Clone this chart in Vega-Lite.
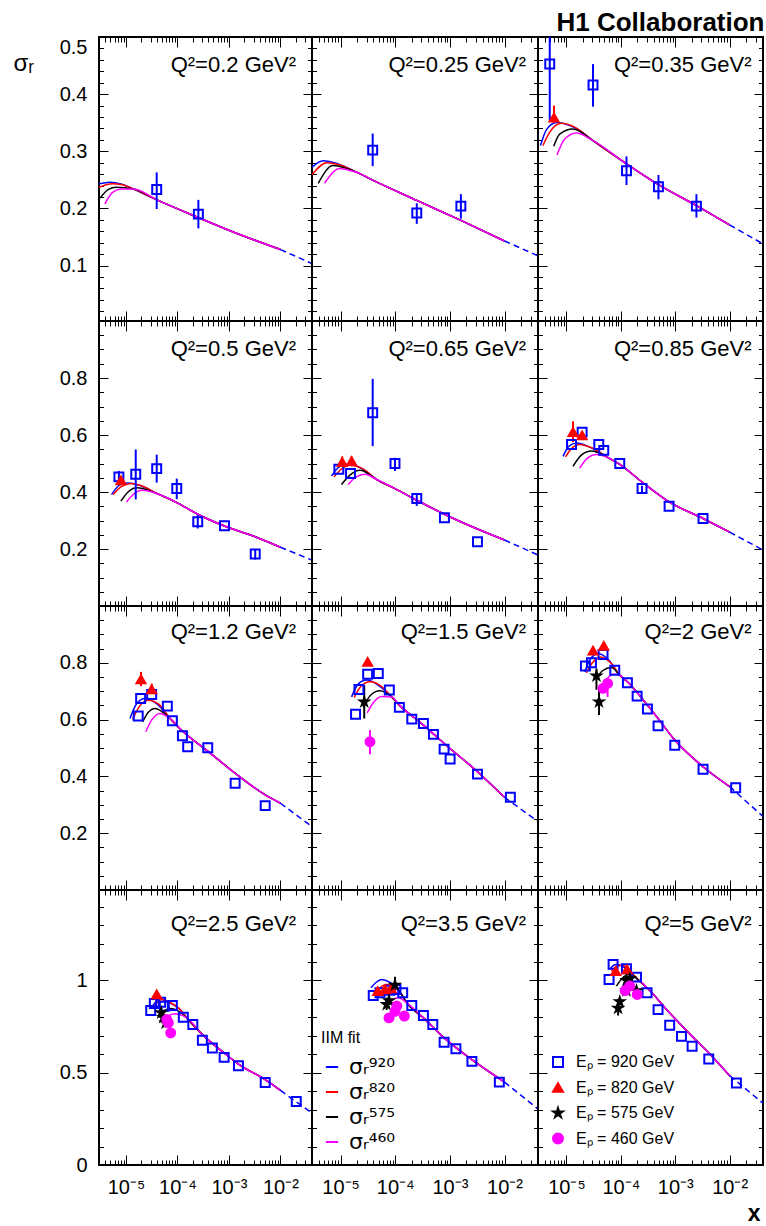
{
"$schema":"https://vega.github.io/schema/vega-lite/v6.json",
"autosize":{"type":"pad"},
"padding":{"left":12,"top":9,"right":2,"bottom":2},
"background":"white",
"title":{"text":"H1 Collaboration","anchor":"end","fontSize":26,"fontWeight":"bold","font":"Liberation Sans","baseline":"alphabetic","offset":-21,"color":"black"},
"config":{"view":{"stroke":"black","strokeWidth":2},"font":"Liberation Sans","axis":{"labelColor":"black","tickColor":"black","tickWidth":1,"labelFont":"Liberation Sans"},"legend":{"labelFont":"Liberation Sans","titleFont":"Liberation Sans","labelColor":"black","titleColor":"black"}},
"data":{"values":[
{"p":1,"k":"c","f":"920","x":3e-6,"y":0.243},{"p":1,"k":"c","f":"920","x":4.9e-6,"y":0.246},{"p":1,"k":"c","f":"920","x":8e-6,"y":0.243},{"p":1,"k":"c","f":"920","x":1.4e-5,"y":0.234},{"p":1,"k":"c","f":"920","x":4e-5,"y":0.215},{"p":1,"k":"c","f":"920","x":2.55e-4,"y":0.184},{"p":1,"k":"c","f":"920","x":1.05e-3,"y":0.161},{"p":1,"k":"c","f":"920","x":0.01,"y":0.128},
{"p":1,"k":"c","f":"820","x":3e-6,"y":0.237},{"p":1,"k":"c","f":"820","x":5.5e-6,"y":0.243},{"p":1,"k":"c","f":"820","x":8e-6,"y":0.242},{"p":1,"k":"c","f":"820","x":1.4e-5,"y":0.234},{"p":1,"k":"c","f":"820","x":4e-5,"y":0.215},{"p":1,"k":"c","f":"820","x":2.55e-4,"y":0.184},{"p":1,"k":"c","f":"820","x":1.05e-3,"y":0.161},{"p":1,"k":"c","f":"820","x":0.01,"y":0.128},
{"p":1,"k":"c","f":"575","x":3.15e-6,"y":0.218},{"p":1,"k":"c","f":"575","x":4.5e-6,"y":0.233},{"p":1,"k":"c","f":"575","x":6.5e-6,"y":0.237},{"p":1,"k":"c","f":"575","x":1.4e-5,"y":0.234},{"p":1,"k":"c","f":"575","x":4e-5,"y":0.215},{"p":1,"k":"c","f":"575","x":2.55e-4,"y":0.184},{"p":1,"k":"c","f":"575","x":1.05e-3,"y":0.161},{"p":1,"k":"c","f":"575","x":0.01,"y":0.128},
{"p":1,"k":"c","f":"460","x":3.9e-6,"y":0.208},{"p":1,"k":"c","f":"460","x":5.5e-6,"y":0.228},{"p":1,"k":"c","f":"460","x":8e-6,"y":0.234},{"p":1,"k":"c","f":"460","x":1.4e-5,"y":0.234},{"p":1,"k":"c","f":"460","x":4e-5,"y":0.215},{"p":1,"k":"c","f":"460","x":2.55e-4,"y":0.184},{"p":1,"k":"c","f":"460","x":1.05e-3,"y":0.161},{"p":1,"k":"c","f":"460","x":0.01,"y":0.128},
{"p":1,"k":"d","x":0.01,"y":0.128},{"p":1,"k":"d","x":0.041,"y":0.1035},
{"p":1,"k":"m","e":"920 GeV","x":3.96e-5,"y":0.233,"lo":0.199,"hi":0.263},{"p":1,"k":"m","e":"920 GeV","x":2.55e-4,"y":0.19,"lo":0.165,"hi":0.215},

{"p":2,"k":"c","f":"920","x":3e-6,"y":0.272},{"p":2,"k":"c","f":"920","x":4.8e-6,"y":0.2836},{"p":2,"k":"c","f":"920","x":9e-6,"y":0.278},{"p":2,"k":"c","f":"920","x":2e-5,"y":0.263},{"p":2,"k":"c","f":"920","x":3.96e-5,"y":0.249},{"p":2,"k":"c","f":"920","x":2.48e-4,"y":0.214},{"p":2,"k":"c","f":"920","x":1.59e-3,"y":0.179},{"p":2,"k":"c","f":"920","x":0.01,"y":0.143},
{"p":2,"k":"c","f":"820","x":3e-6,"y":0.259},{"p":2,"k":"c","f":"820","x":5.6e-6,"y":0.28},{"p":2,"k":"c","f":"820","x":9e-6,"y":0.277},{"p":2,"k":"c","f":"820","x":2e-5,"y":0.263},{"p":2,"k":"c","f":"820","x":3.96e-5,"y":0.249},{"p":2,"k":"c","f":"820","x":2.48e-4,"y":0.214},{"p":2,"k":"c","f":"820","x":1.59e-3,"y":0.179},{"p":2,"k":"c","f":"820","x":0.01,"y":0.143},
{"p":2,"k":"c","f":"575","x":3.9e-6,"y":0.244},{"p":2,"k":"c","f":"575","x":7.3e-6,"y":0.275},{"p":2,"k":"c","f":"575","x":1.2e-5,"y":0.271},{"p":2,"k":"c","f":"575","x":2e-5,"y":0.263},{"p":2,"k":"c","f":"575","x":3.96e-5,"y":0.249},{"p":2,"k":"c","f":"575","x":2.48e-4,"y":0.214},{"p":2,"k":"c","f":"575","x":1.59e-3,"y":0.179},{"p":2,"k":"c","f":"575","x":0.01,"y":0.143},
{"p":2,"k":"c","f":"460","x":5.1e-6,"y":0.244},{"p":2,"k":"c","f":"460","x":9.7e-6,"y":0.27},{"p":2,"k":"c","f":"460","x":1.4e-5,"y":0.267},{"p":2,"k":"c","f":"460","x":2e-5,"y":0.263},{"p":2,"k":"c","f":"460","x":3.96e-5,"y":0.249},{"p":2,"k":"c","f":"460","x":2.48e-4,"y":0.214},{"p":2,"k":"c","f":"460","x":1.59e-3,"y":0.179},{"p":2,"k":"c","f":"460","x":0.01,"y":0.143},
{"p":2,"k":"d","x":0.01,"y":0.143},{"p":2,"k":"d","x":0.041,"y":0.117},
{"p":2,"k":"m","e":"920 GeV","x":3.87e-5,"y":0.302,"lo":0.274,"hi":0.331},{"p":2,"k":"m","e":"920 GeV","x":2.48e-4,"y":0.192,"lo":0.173,"hi":0.209},{"p":2,"k":"m","e":"920 GeV","x":1.59e-3,"y":0.204,"lo":0.182,"hi":0.225},

{"p":3,"k":"c","f":"920","x":3.33e-6,"y":0.31},{"p":3,"k":"c","f":"920","x":4.3e-6,"y":0.338},{"p":3,"k":"c","f":"920","x":6.55e-6,"y":0.3505},{"p":3,"k":"c","f":"920","x":1.5e-5,"y":0.34},{"p":3,"k":"c","f":"920","x":3.08e-5,"y":0.3185},{"p":3,"k":"c","f":"920","x":1.27e-4,"y":0.278},{"p":3,"k":"c","f":"920","x":4.91e-4,"y":0.2416},{"p":3,"k":"c","f":"920","x":2.45e-3,"y":0.205},{"p":3,"k":"c","f":"920","x":0.01,"y":0.171},
{"p":3,"k":"c","f":"820","x":3.7e-6,"y":0.31},{"p":3,"k":"c","f":"820","x":4.9e-6,"y":0.333},{"p":3,"k":"c","f":"820","x":8.1e-6,"y":0.349},{"p":3,"k":"c","f":"820","x":1.5e-5,"y":0.341},{"p":3,"k":"c","f":"820","x":3.08e-5,"y":0.3185},{"p":3,"k":"c","f":"820","x":1.27e-4,"y":0.278},{"p":3,"k":"c","f":"820","x":4.91e-4,"y":0.2416},{"p":3,"k":"c","f":"820","x":2.45e-3,"y":0.205},{"p":3,"k":"c","f":"820","x":0.01,"y":0.171},
{"p":3,"k":"c","f":"575","x":5.85e-6,"y":0.309},{"p":3,"k":"c","f":"575","x":7.5e-6,"y":0.33},{"p":3,"k":"c","f":"575","x":1.32e-5,"y":0.339},{"p":3,"k":"c","f":"575","x":3.08e-5,"y":0.3185},{"p":3,"k":"c","f":"575","x":1.27e-4,"y":0.278},{"p":3,"k":"c","f":"575","x":4.91e-4,"y":0.2416},{"p":3,"k":"c","f":"575","x":2.45e-3,"y":0.205},{"p":3,"k":"c","f":"575","x":0.01,"y":0.171},
{"p":3,"k":"c","f":"460","x":6.7e-6,"y":0.2935},{"p":3,"k":"c","f":"460","x":9.3e-6,"y":0.3215},{"p":3,"k":"c","f":"460","x":1.53e-5,"y":0.332},{"p":3,"k":"c","f":"460","x":3.08e-5,"y":0.3185},{"p":3,"k":"c","f":"460","x":1.27e-4,"y":0.278},{"p":3,"k":"c","f":"460","x":4.91e-4,"y":0.2416},{"p":3,"k":"c","f":"460","x":2.45e-3,"y":0.205},{"p":3,"k":"c","f":"460","x":0.01,"y":0.171},
{"p":3,"k":"d","x":0.01,"y":0.171},{"p":3,"k":"d","x":0.041,"y":0.138},
{"p":3,"k":"m","e":"920 GeV","x":4.93e-6,"y":0.4526,"lo":0.355,"hi":0.56},{"p":3,"k":"m","e":"920 GeV","x":3.08e-5,"y":0.416,"lo":0.378,"hi":0.4526},{"p":3,"k":"m","e":"920 GeV","x":1.27e-4,"y":0.266,"lo":0.241,"hi":0.291},{"p":3,"k":"m","e":"920 GeV","x":4.91e-4,"y":0.238,"lo":0.216,"hi":0.2585},{"p":3,"k":"m","e":"920 GeV","x":2.45e-3,"y":0.204,"lo":0.184,"hi":0.225},{"p":3,"k":"m","e":"820 GeV","x":5.9e-6,"y":0.359,"lo":0.35,"hi":0.38},

{"p":4,"k":"c","f":"920","x":5.27e-6,"y":0.391},{"p":4,"k":"c","f":"920","x":7.5e-6,"y":0.424},{"p":4,"k":"c","f":"920","x":1.11e-5,"y":0.432},{"p":4,"k":"c","f":"920","x":2e-5,"y":0.421},{"p":4,"k":"c","f":"920","x":3.96e-5,"y":0.395},{"p":4,"k":"c","f":"920","x":9.7e-5,"y":0.363},{"p":4,"k":"c","f":"920","x":2.48e-4,"y":0.322},{"p":4,"k":"c","f":"920","x":8.2e-4,"y":0.2805},{"p":4,"k":"c","f":"920","x":3.24e-3,"y":0.243},{"p":4,"k":"c","f":"920","x":0.01,"y":0.206},
{"p":4,"k":"c","f":"820","x":5.66e-6,"y":0.391},{"p":4,"k":"c","f":"820","x":8e-6,"y":0.418},{"p":4,"k":"c","f":"820","x":1.29e-5,"y":0.43},{"p":4,"k":"c","f":"820","x":2e-5,"y":0.422},{"p":4,"k":"c","f":"820","x":3.96e-5,"y":0.395},{"p":4,"k":"c","f":"820","x":9.7e-5,"y":0.363},{"p":4,"k":"c","f":"820","x":2.48e-4,"y":0.322},{"p":4,"k":"c","f":"820","x":8.2e-4,"y":0.2805},{"p":4,"k":"c","f":"820","x":3.24e-3,"y":0.243},{"p":4,"k":"c","f":"820","x":0.01,"y":0.206},
{"p":4,"k":"c","f":"575","x":8e-6,"y":0.368},{"p":4,"k":"c","f":"575","x":1.1e-5,"y":0.4},{"p":4,"k":"c","f":"575","x":1.62e-5,"y":0.4145},{"p":4,"k":"c","f":"575","x":3.96e-5,"y":0.395},{"p":4,"k":"c","f":"575","x":9.7e-5,"y":0.363},{"p":4,"k":"c","f":"575","x":2.48e-4,"y":0.322},{"p":4,"k":"c","f":"575","x":8.2e-4,"y":0.2805},{"p":4,"k":"c","f":"575","x":3.24e-3,"y":0.243},{"p":4,"k":"c","f":"575","x":0.01,"y":0.206},
{"p":4,"k":"c","f":"460","x":1.03e-5,"y":0.365},{"p":4,"k":"c","f":"460","x":1.4e-5,"y":0.392},{"p":4,"k":"c","f":"460","x":2.02e-5,"y":0.406},{"p":4,"k":"c","f":"460","x":3.96e-5,"y":0.395},{"p":4,"k":"c","f":"460","x":9.7e-5,"y":0.363},{"p":4,"k":"c","f":"460","x":2.48e-4,"y":0.322},{"p":4,"k":"c","f":"460","x":8.2e-4,"y":0.2805},{"p":4,"k":"c","f":"460","x":3.24e-3,"y":0.243},{"p":4,"k":"c","f":"460","x":0.01,"y":0.206},
{"p":4,"k":"d","x":0.01,"y":0.206},{"p":4,"k":"d","x":0.041,"y":0.161},
{"p":4,"k":"m","e":"920 GeV","x":7.3e-6,"y":0.453,"lo":0.433,"hi":0.474},{"p":4,"k":"m","e":"920 GeV","x":1.55e-5,"y":0.462,"lo":0.374,"hi":0.549},{"p":4,"k":"m","e":"920 GeV","x":3.96e-5,"y":0.482,"lo":0.433,"hi":0.531},{"p":4,"k":"m","e":"920 GeV","x":9.7e-5,"y":0.412,"lo":0.375,"hi":0.447},{"p":4,"k":"m","e":"920 GeV","x":2.48e-4,"y":0.2955,"lo":0.272,"hi":0.319},{"p":4,"k":"m","e":"920 GeV","x":8.2e-4,"y":0.2815},{"p":4,"k":"m","e":"920 GeV","x":3.24e-3,"y":0.1825,"lo":0.163,"hi":0.199},{"p":4,"k":"m","e":"820 GeV","x":8e-6,"y":0.441},

{"p":5,"k":"c","f":"920","x":6.84e-6,"y":0.456},{"p":5,"k":"c","f":"920","x":9e-6,"y":0.485},{"p":5,"k":"c","f":"920","x":1.29e-5,"y":0.497},{"p":5,"k":"c","f":"920","x":2.5e-5,"y":0.481},{"p":5,"k":"c","f":"920","x":4.58e-5,"y":0.4437},{"p":5,"k":"c","f":"920","x":9.9e-5,"y":0.412},{"p":5,"k":"c","f":"920","x":2.48e-4,"y":0.371},{"p":5,"k":"c","f":"920","x":7.96e-4,"y":0.322},{"p":5,"k":"c","f":"920","x":3.2e-3,"y":0.27},{"p":5,"k":"c","f":"920","x":0.01,"y":0.2315},
{"p":5,"k":"c","f":"820","x":7.6e-6,"y":0.453},{"p":5,"k":"c","f":"820","x":1e-5,"y":0.478},{"p":5,"k":"c","f":"820","x":1.48e-5,"y":0.4937},{"p":5,"k":"c","f":"820","x":2.5e-5,"y":0.483},{"p":5,"k":"c","f":"820","x":4.58e-5,"y":0.4437},{"p":5,"k":"c","f":"820","x":9.9e-5,"y":0.412},{"p":5,"k":"c","f":"820","x":2.48e-4,"y":0.371},{"p":5,"k":"c","f":"820","x":7.96e-4,"y":0.322},{"p":5,"k":"c","f":"820","x":3.2e-3,"y":0.27},{"p":5,"k":"c","f":"820","x":0.01,"y":0.2315},
{"p":5,"k":"c","f":"575","x":1.04e-5,"y":0.426},{"p":5,"k":"c","f":"575","x":1.5e-5,"y":0.46},{"p":5,"k":"c","f":"575","x":2.26e-5,"y":0.476},{"p":5,"k":"c","f":"575","x":4.58e-5,"y":0.4437},{"p":5,"k":"c","f":"575","x":9.9e-5,"y":0.412},{"p":5,"k":"c","f":"575","x":2.48e-4,"y":0.371},{"p":5,"k":"c","f":"575","x":7.96e-4,"y":0.322},{"p":5,"k":"c","f":"575","x":3.2e-3,"y":0.27},{"p":5,"k":"c","f":"575","x":0.01,"y":0.2315},
{"p":5,"k":"c","f":"460","x":1.38e-5,"y":0.426},{"p":5,"k":"c","f":"460","x":1.9e-5,"y":0.452},{"p":5,"k":"c","f":"460","x":2.79e-5,"y":0.462},{"p":5,"k":"c","f":"460","x":4.58e-5,"y":0.4437},{"p":5,"k":"c","f":"460","x":9.9e-5,"y":0.412},{"p":5,"k":"c","f":"460","x":2.48e-4,"y":0.371},{"p":5,"k":"c","f":"460","x":7.96e-4,"y":0.322},{"p":5,"k":"c","f":"460","x":3.2e-3,"y":0.27},{"p":5,"k":"c","f":"460","x":0.01,"y":0.2315},
{"p":5,"k":"d","x":0.01,"y":0.2315},{"p":5,"k":"d","x":0.041,"y":0.179},
{"p":5,"k":"m","e":"920 GeV","x":9.3e-6,"y":0.48},{"p":5,"k":"m","e":"920 GeV","x":1.52e-5,"y":0.4647},{"p":5,"k":"m","e":"920 GeV","x":3.87e-5,"y":0.678,"lo":0.561,"hi":0.797},{"p":5,"k":"m","e":"920 GeV","x":9.9e-5,"y":0.4997,"lo":0.474,"hi":0.52},{"p":5,"k":"m","e":"920 GeV","x":2.48e-4,"y":0.377,"lo":0.3515,"hi":0.395},{"p":5,"k":"m","e":"920 GeV","x":7.96e-4,"y":0.3096},{"p":5,"k":"m","e":"920 GeV","x":3.2e-3,"y":0.2256},{"p":5,"k":"m","e":"820 GeV","x":1.07e-5,"y":0.505,"lo":0.49,"hi":0.525},{"p":5,"k":"m","e":"820 GeV","x":1.59e-5,"y":0.508,"lo":0.49,"hi":0.525},

{"p":6,"k":"c","f":"920","x":8.66e-6,"y":0.525},{"p":6,"k":"c","f":"920","x":1.1e-5,"y":0.56},{"p":6,"k":"c","f":"920","x":1.53e-5,"y":0.572},{"p":6,"k":"c","f":"920","x":3e-5,"y":0.553},{"p":6,"k":"c","f":"920","x":5.82e-5,"y":0.5206},{"p":6,"k":"c","f":"920","x":9.55e-5,"y":0.497},{"p":6,"k":"c","f":"920","x":2.45e-4,"y":0.435},{"p":6,"k":"c","f":"920","x":7.7e-4,"y":0.3654},{"p":6,"k":"c","f":"920","x":3.24e-3,"y":0.307},{"p":6,"k":"c","f":"920","x":0.01,"y":0.259},
{"p":6,"k":"c","f":"820","x":9.6e-6,"y":0.523},{"p":6,"k":"c","f":"820","x":1.25e-5,"y":0.553},{"p":6,"k":"c","f":"820","x":1.75e-5,"y":0.567},{"p":6,"k":"c","f":"820","x":3e-5,"y":0.554},{"p":6,"k":"c","f":"820","x":5.82e-5,"y":0.5206},{"p":6,"k":"c","f":"820","x":9.55e-5,"y":0.497},{"p":6,"k":"c","f":"820","x":2.45e-4,"y":0.435},{"p":6,"k":"c","f":"820","x":7.7e-4,"y":0.3654},{"p":6,"k":"c","f":"820","x":3.24e-3,"y":0.307},{"p":6,"k":"c","f":"820","x":0.01,"y":0.259},
{"p":6,"k":"c","f":"575","x":1.32e-5,"y":0.49},{"p":6,"k":"c","f":"575","x":1.9e-5,"y":0.53},{"p":6,"k":"c","f":"575","x":2.88e-5,"y":0.5437},{"p":6,"k":"c","f":"575","x":5.82e-5,"y":0.5206},{"p":6,"k":"c","f":"575","x":9.55e-5,"y":0.497},{"p":6,"k":"c","f":"575","x":2.45e-4,"y":0.435},{"p":6,"k":"c","f":"575","x":7.7e-4,"y":0.3654},{"p":6,"k":"c","f":"575","x":3.24e-3,"y":0.307},{"p":6,"k":"c","f":"575","x":0.01,"y":0.259},
{"p":6,"k":"c","f":"460","x":1.75e-5,"y":0.484},{"p":6,"k":"c","f":"460","x":2.4e-5,"y":0.518},{"p":6,"k":"c","f":"460","x":3.56e-5,"y":0.532},{"p":6,"k":"c","f":"460","x":5.82e-5,"y":0.5206},{"p":6,"k":"c","f":"460","x":9.55e-5,"y":0.497},{"p":6,"k":"c","f":"460","x":2.45e-4,"y":0.435},{"p":6,"k":"c","f":"460","x":7.7e-4,"y":0.3654},{"p":6,"k":"c","f":"460","x":3.24e-3,"y":0.307},{"p":6,"k":"c","f":"460","x":0.01,"y":0.259},
{"p":6,"k":"d","x":0.01,"y":0.259},{"p":6,"k":"d","x":0.041,"y":0.1965},
{"p":6,"k":"m","e":"920 GeV","x":1.24e-5,"y":0.567},{"p":6,"k":"m","e":"920 GeV","x":1.94e-5,"y":0.61},{"p":6,"k":"m","e":"920 GeV","x":3.93e-5,"y":0.567},{"p":6,"k":"m","e":"920 GeV","x":4.85e-5,"y":0.546},{"p":6,"k":"m","e":"920 GeV","x":9.55e-5,"y":0.4997},{"p":6,"k":"m","e":"920 GeV","x":2.45e-4,"y":0.412,"lo":0.4,"hi":0.422},{"p":6,"k":"m","e":"920 GeV","x":7.7e-4,"y":0.35},{"p":6,"k":"m","e":"920 GeV","x":3.24e-3,"y":0.307},{"p":6,"k":"m","e":"820 GeV","x":1.32e-5,"y":0.61,"lo":0.575,"hi":0.648},{"p":6,"k":"m","e":"820 GeV","x":1.94e-5,"y":0.5986},

{"p":7,"k":"c","f":"920","x":1.2e-5,"y":0.604},{"p":7,"k":"c","f":"920","x":1.6e-5,"y":0.655},{"p":7,"k":"c","f":"920","x":2.34e-5,"y":0.6745},{"p":7,"k":"c","f":"920","x":4e-5,"y":0.655},{"p":7,"k":"c","f":"920","x":7.18e-5,"y":0.604},{"p":7,"k":"c","f":"920","x":1.25e-4,"y":0.5596},{"p":7,"k":"c","f":"920","x":3.88e-4,"y":0.489},{"p":7,"k":"c","f":"920","x":1.32e-3,"y":0.411},{"p":7,"k":"c","f":"920","x":5.06e-3,"y":0.3346},{"p":7,"k":"c","f":"920","x":0.01,"y":0.3054},
{"p":7,"k":"c","f":"820","x":1.35e-5,"y":0.6007},{"p":7,"k":"c","f":"820","x":1.8e-5,"y":0.645},{"p":7,"k":"c","f":"820","x":2.72e-5,"y":0.6685},{"p":7,"k":"c","f":"820","x":4.5e-5,"y":0.652},{"p":7,"k":"c","f":"820","x":7.18e-5,"y":0.604},{"p":7,"k":"c","f":"820","x":1.25e-4,"y":0.5596},{"p":7,"k":"c","f":"820","x":3.88e-4,"y":0.489},{"p":7,"k":"c","f":"820","x":1.32e-3,"y":0.411},{"p":7,"k":"c","f":"820","x":5.06e-3,"y":0.3346},{"p":7,"k":"c","f":"820","x":0.01,"y":0.3054},
{"p":7,"k":"c","f":"575","x":2.11e-5,"y":0.592},{"p":7,"k":"c","f":"575","x":2.7e-5,"y":0.625},{"p":7,"k":"c","f":"575","x":3.67e-5,"y":0.639},{"p":7,"k":"c","f":"575","x":7.18e-5,"y":0.604},{"p":7,"k":"c","f":"575","x":1.25e-4,"y":0.5596},{"p":7,"k":"c","f":"575","x":3.88e-4,"y":0.489},{"p":7,"k":"c","f":"575","x":1.32e-3,"y":0.411},{"p":7,"k":"c","f":"575","x":5.06e-3,"y":0.3346},{"p":7,"k":"c","f":"575","x":0.01,"y":0.3054},
{"p":7,"k":"c","f":"460","x":2.42e-5,"y":0.557},{"p":7,"k":"c","f":"460","x":3.2e-5,"y":0.6},{"p":7,"k":"c","f":"460","x":4.58e-5,"y":0.6218},{"p":7,"k":"c","f":"460","x":7.18e-5,"y":0.604},{"p":7,"k":"c","f":"460","x":1.25e-4,"y":0.5596},{"p":7,"k":"c","f":"460","x":3.88e-4,"y":0.489},{"p":7,"k":"c","f":"460","x":1.32e-3,"y":0.411},{"p":7,"k":"c","f":"460","x":5.06e-3,"y":0.3346},{"p":7,"k":"c","f":"460","x":0.01,"y":0.3054},
{"p":7,"k":"d","x":0.01,"y":0.3054},{"p":7,"k":"d","x":0.041,"y":0.223},
{"p":7,"k":"m","e":"920 GeV","x":1.73e-5,"y":0.613},{"p":7,"k":"m","e":"920 GeV","x":1.93e-5,"y":0.6745},{"p":7,"k":"m","e":"920 GeV","x":3.16e-5,"y":0.6886},{"p":7,"k":"m","e":"920 GeV","x":6.37e-5,"y":0.6475},{"p":7,"k":"m","e":"920 GeV","x":7.97e-5,"y":0.596},{"p":7,"k":"m","e":"920 GeV","x":1.25e-4,"y":0.543},{"p":7,"k":"m","e":"920 GeV","x":1.58e-4,"y":0.5045},{"p":7,"k":"m","e":"920 GeV","x":3.88e-4,"y":0.501},{"p":7,"k":"m","e":"920 GeV","x":1.32e-3,"y":0.376},{"p":7,"k":"m","e":"920 GeV","x":5.06e-3,"y":0.297},{"p":7,"k":"m","e":"820 GeV","x":1.96e-5,"y":0.742,"lo":0.718,"hi":0.768},{"p":7,"k":"m","e":"820 GeV","x":3.16e-5,"y":0.706,"lo":0.69,"hi":0.727},

{"p":8,"k":"c","f":"920","x":1.59e-5,"y":0.68},{"p":8,"k":"c","f":"920","x":2.1e-5,"y":0.725},{"p":8,"k":"c","f":"920","x":3e-5,"y":0.739},{"p":8,"k":"c","f":"920","x":5e-5,"y":0.72},{"p":8,"k":"c","f":"920","x":8.6e-5,"y":0.68},{"p":8,"k":"c","f":"920","x":1.19e-4,"y":0.651},{"p":8,"k":"c","f":"920","x":3.28e-4,"y":0.5807},{"p":8,"k":"c","f":"920","x":7.85e-4,"y":0.516},{"p":8,"k":"c","f":"920","x":3.2e-3,"y":0.4165},{"p":8,"k":"c","f":"920","x":0.01,"y":0.3265},
{"p":8,"k":"c","f":"820","x":1.78e-5,"y":0.678},{"p":8,"k":"c","f":"820","x":2.3e-5,"y":0.715},{"p":8,"k":"c","f":"820","x":3.45e-5,"y":0.733},{"p":8,"k":"c","f":"820","x":5.5e-5,"y":0.718},{"p":8,"k":"c","f":"820","x":8.6e-5,"y":0.68},{"p":8,"k":"c","f":"820","x":1.19e-4,"y":0.651},{"p":8,"k":"c","f":"820","x":3.28e-4,"y":0.5807},{"p":8,"k":"c","f":"820","x":7.85e-4,"y":0.516},{"p":8,"k":"c","f":"820","x":3.2e-3,"y":0.4165},{"p":8,"k":"c","f":"820","x":0.01,"y":0.3265},
{"p":8,"k":"c","f":"575","x":2.6e-5,"y":0.643},{"p":8,"k":"c","f":"575","x":3.5e-5,"y":0.685},{"p":8,"k":"c","f":"575","x":5.26e-5,"y":0.7015},{"p":8,"k":"c","f":"575","x":8.6e-5,"y":0.68},{"p":8,"k":"c","f":"575","x":1.19e-4,"y":0.651},{"p":8,"k":"c","f":"575","x":3.28e-4,"y":0.5807},{"p":8,"k":"c","f":"575","x":7.85e-4,"y":0.516},{"p":8,"k":"c","f":"575","x":3.2e-3,"y":0.4165},{"p":8,"k":"c","f":"575","x":0.01,"y":0.3265},
{"p":8,"k":"c","f":"460","x":3.08e-5,"y":0.624},{"p":8,"k":"c","f":"460","x":4e-5,"y":0.66},{"p":8,"k":"c","f":"460","x":5.65e-5,"y":0.681},{"p":8,"k":"c","f":"460","x":8.6e-5,"y":0.68},{"p":8,"k":"c","f":"460","x":1.19e-4,"y":0.651},{"p":8,"k":"c","f":"460","x":3.28e-4,"y":0.5807},{"p":8,"k":"c","f":"460","x":7.85e-4,"y":0.516},{"p":8,"k":"c","f":"460","x":3.2e-3,"y":0.4165},{"p":8,"k":"c","f":"460","x":0.01,"y":0.3265},
{"p":8,"k":"d","x":0.01,"y":0.3265},{"p":8,"k":"d","x":0.041,"y":0.241},
{"p":8,"k":"m","e":"920 GeV","x":1.88e-5,"y":0.619},{"p":8,"k":"m","e":"920 GeV","x":2.17e-5,"y":0.706},{"p":8,"k":"m","e":"920 GeV","x":3.13e-5,"y":0.76},{"p":8,"k":"m","e":"920 GeV","x":4.9e-5,"y":0.7625},{"p":8,"k":"m","e":"920 GeV","x":7.8e-5,"y":0.704},{"p":8,"k":"m","e":"920 GeV","x":1.19e-4,"y":0.643},{"p":8,"k":"m","e":"920 GeV","x":2.01e-4,"y":0.6017},{"p":8,"k":"m","e":"920 GeV","x":3.28e-4,"y":0.5866},{"p":8,"k":"m","e":"920 GeV","x":5e-4,"y":0.548},{"p":8,"k":"m","e":"920 GeV","x":7.85e-4,"y":0.496},{"p":8,"k":"m","e":"920 GeV","x":1.01e-3,"y":0.461},{"p":8,"k":"m","e":"920 GeV","x":3.2e-3,"y":0.408},{"p":8,"k":"m","e":"920 GeV","x":1.28e-2,"y":0.3265},{"p":8,"k":"m","e":"820 GeV","x":3.13e-5,"y":0.803},{"p":8,"k":"m","e":"575 GeV","x":2.71e-5,"y":0.6626,"lo":0.604,"hi":0.721},{"p":8,"k":"m","e":"460 GeV","x":3.45e-5,"y":0.522,"lo":0.478,"hi":0.563},

{"p":9,"k":"c","f":"920","x":2.17e-5,"y":0.768},{"p":9,"k":"c","f":"920","x":2.8e-5,"y":0.815},{"p":9,"k":"c","f":"920","x":3.81e-5,"y":0.8327},{"p":9,"k":"c","f":"920","x":6e-5,"y":0.81},{"p":9,"k":"c","f":"920","x":9.55e-5,"y":0.7564},{"p":9,"k":"c","f":"920","x":1.32e-4,"y":0.733},{"p":9,"k":"c","f":"920","x":3.08e-4,"y":0.651},{"p":9,"k":"c","f":"920","x":4.83e-4,"y":0.604},{"p":9,"k":"c","f":"920","x":9.8e-4,"y":0.528},{"p":9,"k":"c","f":"920","x":3.24e-3,"y":0.434},{"p":9,"k":"c","f":"920","x":0.01,"y":0.364},
{"p":9,"k":"c","f":"820","x":2.33e-5,"y":0.7645},{"p":9,"k":"c","f":"820","x":3e-5,"y":0.8},{"p":9,"k":"c","f":"820","x":4.22e-5,"y":0.8207},{"p":9,"k":"c","f":"820","x":6.5e-5,"y":0.8},{"p":9,"k":"c","f":"820","x":9.55e-5,"y":0.7564},{"p":9,"k":"c","f":"820","x":1.32e-4,"y":0.733},{"p":9,"k":"c","f":"820","x":3.08e-4,"y":0.651},{"p":9,"k":"c","f":"820","x":4.83e-4,"y":0.604},{"p":9,"k":"c","f":"820","x":9.8e-4,"y":0.528},{"p":9,"k":"c","f":"820","x":3.24e-3,"y":0.434},{"p":9,"k":"c","f":"820","x":0.01,"y":0.364},
{"p":9,"k":"c","f":"575","x":3.65e-5,"y":0.748},{"p":9,"k":"c","f":"575","x":4.6e-5,"y":0.772},{"p":9,"k":"c","f":"575","x":6.71e-5,"y":0.7835},{"p":9,"k":"c","f":"575","x":9.55e-5,"y":0.7564},{"p":9,"k":"c","f":"575","x":1.32e-4,"y":0.733},{"p":9,"k":"c","f":"575","x":3.08e-4,"y":0.651},{"p":9,"k":"c","f":"575","x":4.83e-4,"y":0.604},{"p":9,"k":"c","f":"575","x":9.8e-4,"y":0.528},{"p":9,"k":"c","f":"575","x":3.24e-3,"y":0.434},{"p":9,"k":"c","f":"575","x":0.01,"y":0.364},
{"p":9,"k":"c","f":"460","x":4.51e-5,"y":0.713},{"p":9,"k":"c","f":"460","x":5.6e-5,"y":0.745},{"p":9,"k":"c","f":"460","x":7.73e-5,"y":0.76},{"p":9,"k":"c","f":"460","x":9.55e-5,"y":0.7564},{"p":9,"k":"c","f":"460","x":1.32e-4,"y":0.733},{"p":9,"k":"c","f":"460","x":3.08e-4,"y":0.651},{"p":9,"k":"c","f":"460","x":4.83e-4,"y":0.604},{"p":9,"k":"c","f":"460","x":9.8e-4,"y":0.528},{"p":9,"k":"c","f":"460","x":3.24e-3,"y":0.434},{"p":9,"k":"c","f":"460","x":0.01,"y":0.364},
{"p":9,"k":"d","x":0.01,"y":0.364},{"p":9,"k":"d","x":0.041,"y":0.259},
{"p":9,"k":"m","e":"920 GeV","x":2.23e-5,"y":0.789},{"p":9,"k":"m","e":"920 GeV","x":2.88e-5,"y":0.8},{"p":9,"k":"m","e":"920 GeV","x":4.71e-5,"y":0.829},{"p":9,"k":"m","e":"920 GeV","x":7.73e-5,"y":0.774},{"p":9,"k":"m","e":"920 GeV","x":1.32e-4,"y":0.7295},{"p":9,"k":"m","e":"920 GeV","x":1.99e-4,"y":0.6826},{"p":9,"k":"m","e":"920 GeV","x":3.08e-4,"y":0.637},{"p":9,"k":"m","e":"920 GeV","x":4.83e-4,"y":0.578},{"p":9,"k":"m","e":"920 GeV","x":9.8e-4,"y":0.51},{"p":9,"k":"m","e":"920 GeV","x":3.24e-3,"y":0.425},{"p":9,"k":"m","e":"920 GeV","x":1.29e-2,"y":0.36},{"p":9,"k":"m","e":"820 GeV","x":3.08e-5,"y":0.8425},{"p":9,"k":"m","e":"820 GeV","x":4.85e-5,"y":0.86},{"p":9,"k":"m","e":"575 GeV","x":3.56e-5,"y":0.754,"lo":0.705,"hi":0.78},{"p":9,"k":"m","e":"575 GeV","x":3.97e-5,"y":0.6626,"lo":0.616,"hi":0.704},{"p":9,"k":"m","e":"460 GeV","x":4.7e-5,"y":0.71},{"p":9,"k":"m","e":"460 GeV","x":5.7e-5,"y":0.7275,"lo":0.68,"hi":0.741},

{"p":10,"k":"c","f":"920","x":3.16e-5,"y":0.855},{"p":10,"k":"c","f":"920","x":3.8e-5,"y":0.885},{"p":10,"k":"c","f":"920","x":4.58e-5,"y":0.9},{"p":10,"k":"c","f":"920","x":7e-5,"y":0.88},{"p":10,"k":"c","f":"920","x":1.1e-4,"y":0.845},{"p":10,"k":"c","f":"920","x":1.52e-4,"y":0.797},{"p":10,"k":"c","f":"920","x":3.05e-4,"y":0.7065},{"p":10,"k":"c","f":"920","x":8.07e-4,"y":0.607},{"p":10,"k":"c","f":"920","x":1.53e-3,"y":0.547},{"p":10,"k":"c","f":"920","x":5.06e-3,"y":0.462},{"p":10,"k":"c","f":"920","x":0.01,"y":0.404},
{"p":10,"k":"c","f":"820","x":3.3e-5,"y":0.846},{"p":10,"k":"c","f":"820","x":4e-5,"y":0.88},{"p":10,"k":"c","f":"820","x":4.95e-5,"y":0.897},{"p":10,"k":"c","f":"820","x":7e-5,"y":0.882},{"p":10,"k":"c","f":"820","x":1.1e-4,"y":0.846},{"p":10,"k":"c","f":"820","x":1.52e-4,"y":0.797},{"p":10,"k":"c","f":"820","x":3.05e-4,"y":0.7065},{"p":10,"k":"c","f":"820","x":8.07e-4,"y":0.607},{"p":10,"k":"c","f":"820","x":1.53e-3,"y":0.547},{"p":10,"k":"c","f":"820","x":5.06e-3,"y":0.462},{"p":10,"k":"c","f":"820","x":0.01,"y":0.404},
{"p":10,"k":"c","f":"575","x":4.58e-5,"y":0.806},{"p":10,"k":"c","f":"575","x":5.5e-5,"y":0.835},{"p":10,"k":"c","f":"575","x":7.18e-5,"y":0.848},{"p":10,"k":"c","f":"575","x":1.1e-4,"y":0.83},{"p":10,"k":"c","f":"575","x":1.52e-4,"y":0.797},{"p":10,"k":"c","f":"575","x":3.05e-4,"y":0.7065},{"p":10,"k":"c","f":"575","x":8.07e-4,"y":0.607},{"p":10,"k":"c","f":"575","x":1.53e-3,"y":0.547},{"p":10,"k":"c","f":"575","x":5.06e-3,"y":0.462},{"p":10,"k":"c","f":"575","x":0.01,"y":0.404},
{"p":10,"k":"c","f":"460","x":5.32e-5,"y":0.773},{"p":10,"k":"c","f":"460","x":6.5e-5,"y":0.805},{"p":10,"k":"c","f":"460","x":8.98e-5,"y":0.819},{"p":10,"k":"c","f":"460","x":1.1e-4,"y":0.815},{"p":10,"k":"c","f":"460","x":1.52e-4,"y":0.797},{"p":10,"k":"c","f":"460","x":3.05e-4,"y":0.7065},{"p":10,"k":"c","f":"460","x":8.07e-4,"y":0.607},{"p":10,"k":"c","f":"460","x":1.53e-3,"y":0.547},{"p":10,"k":"c","f":"460","x":5.06e-3,"y":0.462},{"p":10,"k":"c","f":"460","x":0.01,"y":0.404},
{"p":10,"k":"d","x":0.01,"y":0.404},{"p":10,"k":"d","x":0.041,"y":0.281},
{"p":10,"k":"m","e":"920 GeV","x":3.03e-5,"y":0.837},{"p":10,"k":"m","e":"920 GeV","x":3.56e-5,"y":0.875},{"p":10,"k":"m","e":"920 GeV","x":4.73e-5,"y":0.882},{"p":10,"k":"m","e":"920 GeV","x":5.56e-5,"y":0.86},{"p":10,"k":"m","e":"920 GeV","x":7.97e-5,"y":0.864},{"p":10,"k":"m","e":"920 GeV","x":1.3e-4,"y":0.8007},{"p":10,"k":"m","e":"920 GeV","x":1.99e-4,"y":0.761},{"p":10,"k":"m","e":"920 GeV","x":3.05e-4,"y":0.6757},{"p":10,"k":"m","e":"920 GeV","x":4.77e-4,"y":0.634},{"p":10,"k":"m","e":"920 GeV","x":8.07e-4,"y":0.583},{"p":10,"k":"m","e":"920 GeV","x":1.53e-3,"y":0.538},{"p":10,"k":"m","e":"920 GeV","x":5.06e-3,"y":0.447},{"p":10,"k":"m","e":"920 GeV","x":2.03e-2,"y":0.344},{"p":10,"k":"m","e":"820 GeV","x":3.96e-5,"y":0.924},{"p":10,"k":"m","e":"575 GeV","x":4.85e-5,"y":0.825,"lo":0.8,"hi":0.85},{"p":10,"k":"m","e":"575 GeV","x":5.3e-5,"y":0.8},{"p":10,"k":"m","e":"575 GeV","x":5.9e-5,"y":0.77,"lo":0.745,"hi":0.795},{"p":10,"k":"m","e":"460 GeV","x":6.2e-5,"y":0.788},{"p":10,"k":"m","e":"460 GeV","x":6.66e-5,"y":0.77},{"p":10,"k":"m","e":"460 GeV","x":7.4e-5,"y":0.716,"lo":0.7,"hi":0.735},

{"p":11,"k":"c","f":"920","x":3.6e-5,"y":0.96},{"p":11,"k":"c","f":"920","x":4.5e-5,"y":0.99},{"p":11,"k":"c","f":"920","x":5.65e-5,"y":1.005},{"p":11,"k":"c","f":"920","x":8e-5,"y":0.99},{"p":11,"k":"c","f":"920","x":1.14e-4,"y":0.95},{"p":11,"k":"c","f":"920","x":1.63e-4,"y":0.879},{"p":11,"k":"c","f":"920","x":3.28e-4,"y":0.797},{"p":11,"k":"c","f":"920","x":7.85e-4,"y":0.6886},{"p":11,"k":"c","f":"920","x":2.53e-3,"y":0.5707},{"p":11,"k":"c","f":"920","x":0.01,"y":0.449},
{"p":11,"k":"c","f":"820","x":4.26e-5,"y":0.924},{"p":11,"k":"c","f":"820","x":5.2e-5,"y":0.958},{"p":11,"k":"c","f":"820","x":6.98e-5,"y":0.978},{"p":11,"k":"c","f":"820","x":1e-4,"y":0.96},{"p":11,"k":"c","f":"820","x":1.14e-4,"y":0.945},{"p":11,"k":"c","f":"820","x":1.63e-4,"y":0.879},{"p":11,"k":"c","f":"820","x":3.28e-4,"y":0.797},{"p":11,"k":"c","f":"820","x":7.85e-4,"y":0.6886},{"p":11,"k":"c","f":"820","x":2.53e-3,"y":0.5707},{"p":11,"k":"c","f":"820","x":0.01,"y":0.449},
{"p":11,"k":"c","f":"575","x":5.65e-5,"y":0.915},{"p":11,"k":"c","f":"575","x":7e-5,"y":0.95},{"p":11,"k":"c","f":"575","x":9.2e-5,"y":0.969},{"p":11,"k":"c","f":"575","x":1.14e-4,"y":0.95},{"p":11,"k":"c","f":"575","x":1.63e-4,"y":0.879},{"p":11,"k":"c","f":"575","x":3.28e-4,"y":0.797},{"p":11,"k":"c","f":"575","x":7.85e-4,"y":0.6886},{"p":11,"k":"c","f":"575","x":2.53e-3,"y":0.5707},{"p":11,"k":"c","f":"575","x":0.01,"y":0.449},
{"p":11,"k":"c","f":"460","x":6.78e-5,"y":0.852},{"p":11,"k":"c","f":"460","x":8.5e-5,"y":0.89},{"p":11,"k":"c","f":"460","x":1.14e-4,"y":0.906},{"p":11,"k":"c","f":"460","x":1.63e-4,"y":0.879},{"p":11,"k":"c","f":"460","x":3.28e-4,"y":0.797},{"p":11,"k":"c","f":"460","x":7.85e-4,"y":0.6886},{"p":11,"k":"c","f":"460","x":2.53e-3,"y":0.5707},{"p":11,"k":"c","f":"460","x":0.01,"y":0.449},
{"p":11,"k":"d","x":0.01,"y":0.449},{"p":11,"k":"d","x":0.041,"y":0.303},
{"p":11,"k":"m","e":"920 GeV","x":3.96e-5,"y":0.9185},{"p":11,"k":"m","e":"920 GeV","x":5.26e-5,"y":0.933},{"p":11,"k":"m","e":"920 GeV","x":8.03e-5,"y":0.947},{"p":11,"k":"m","e":"920 GeV","x":1.03e-4,"y":0.951},{"p":11,"k":"m","e":"920 GeV","x":1.37e-4,"y":0.933},{"p":11,"k":"m","e":"920 GeV","x":2.01e-4,"y":0.864},{"p":11,"k":"m","e":"920 GeV","x":3.28e-4,"y":0.81},{"p":11,"k":"m","e":"920 GeV","x":4.87e-4,"y":0.761},{"p":11,"k":"m","e":"920 GeV","x":7.85e-4,"y":0.665},{"p":11,"k":"m","e":"920 GeV","x":1.29e-3,"y":0.63},{"p":11,"k":"m","e":"920 GeV","x":2.53e-3,"y":0.5616},{"p":11,"k":"m","e":"920 GeV","x":8.04e-3,"y":0.449},{"p":11,"k":"m","e":"820 GeV","x":4.78e-5,"y":0.942},{"p":11,"k":"m","e":"820 GeV","x":6.5e-5,"y":0.951},{"p":11,"k":"m","e":"820 GeV","x":8.4e-5,"y":0.957},{"p":11,"k":"m","e":"575 GeV","x":6.98e-5,"y":0.87,"lo":0.84,"hi":0.9},{"p":11,"k":"m","e":"575 GeV","x":7.7e-5,"y":0.89},{"p":11,"k":"m","e":"575 GeV","x":9.9e-5,"y":0.975,"lo":0.94,"hi":1.02},{"p":11,"k":"m","e":"460 GeV","x":7.7e-5,"y":0.797},{"p":11,"k":"m","e":"460 GeV","x":9.9e-5,"y":0.833},{"p":11,"k":"m","e":"460 GeV","x":1.07e-4,"y":0.861},{"p":11,"k":"m","e":"460 GeV","x":1.47e-4,"y":0.807},

{"p":12,"k":"c","f":"920","x":6.25e-5,"y":1.06},{"p":12,"k":"c","f":"920","x":7.2e-5,"y":1.08},{"p":12,"k":"c","f":"920","x":8.3e-5,"y":1.087},{"p":12,"k":"c","f":"920","x":1.3e-4,"y":1.06},{"p":12,"k":"c","f":"920","x":1.6e-4,"y":1.035},{"p":12,"k":"c","f":"920","x":2.22e-4,"y":0.996},{"p":12,"k":"c","f":"920","x":3.03e-4,"y":0.96},{"p":12,"k":"c","f":"920","x":7.9e-4,"y":0.824},{"p":12,"k":"c","f":"920","x":2.04e-3,"y":0.697},{"p":12,"k":"c","f":"920","x":4.13e-3,"y":0.607},{"p":12,"k":"c","f":"920","x":0.01,"y":0.484},
{"p":12,"k":"c","f":"820","x":6.7e-5,"y":1.051},{"p":12,"k":"c","f":"820","x":8e-5,"y":1.072},{"p":12,"k":"c","f":"820","x":1.03e-4,"y":1.082},{"p":12,"k":"c","f":"820","x":1.4e-4,"y":1.06},{"p":12,"k":"c","f":"820","x":1.6e-4,"y":1.04},{"p":12,"k":"c","f":"820","x":2.22e-4,"y":0.996},{"p":12,"k":"c","f":"820","x":3.03e-4,"y":0.96},{"p":12,"k":"c","f":"820","x":7.9e-4,"y":0.824},{"p":12,"k":"c","f":"820","x":2.04e-3,"y":0.697},{"p":12,"k":"c","f":"820","x":4.13e-3,"y":0.607},{"p":12,"k":"c","f":"820","x":0.01,"y":0.484},
{"p":12,"k":"c","f":"575","x":8.3e-5,"y":0.969},{"p":12,"k":"c","f":"575","x":1.05e-4,"y":1.01},{"p":12,"k":"c","f":"575","x":1.46e-4,"y":1.033},{"p":12,"k":"c","f":"575","x":2.22e-4,"y":0.996},{"p":12,"k":"c","f":"575","x":3.03e-4,"y":0.96},{"p":12,"k":"c","f":"575","x":7.9e-4,"y":0.824},{"p":12,"k":"c","f":"575","x":2.04e-3,"y":0.697},{"p":12,"k":"c","f":"575","x":4.13e-3,"y":0.607},{"p":12,"k":"c","f":"575","x":0.01,"y":0.484},
{"p":12,"k":"c","f":"460","x":1.03e-4,"y":0.96},{"p":12,"k":"c","f":"460","x":1.25e-4,"y":0.98},{"p":12,"k":"c","f":"460","x":1.57e-4,"y":0.991},{"p":12,"k":"c","f":"460","x":2.22e-4,"y":0.996},{"p":12,"k":"c","f":"460","x":3.03e-4,"y":0.96},{"p":12,"k":"c","f":"460","x":7.9e-4,"y":0.824},{"p":12,"k":"c","f":"460","x":2.04e-3,"y":0.697},{"p":12,"k":"c","f":"460","x":4.13e-3,"y":0.607},{"p":12,"k":"c","f":"460","x":0.01,"y":0.484},
{"p":12,"k":"d","x":0.01,"y":0.484},{"p":12,"k":"d","x":0.041,"y":0.335},
{"p":12,"k":"m","e":"920 GeV","x":6.07e-5,"y":1.005},{"p":12,"k":"m","e":"920 GeV","x":7.2e-5,"y":1.087},{"p":12,"k":"m","e":"920 GeV","x":1.27e-4,"y":1.063},{"p":12,"k":"m","e":"920 GeV","x":1.94e-4,"y":1.018},{"p":12,"k":"m","e":"920 GeV","x":3.03e-4,"y":0.933},{"p":12,"k":"m","e":"920 GeV","x":4.83e-4,"y":0.842},{"p":12,"k":"m","e":"920 GeV","x":7.9e-4,"y":0.757},{"p":12,"k":"m","e":"920 GeV","x":1.3e-3,"y":0.697},{"p":12,"k":"m","e":"920 GeV","x":2.04e-3,"y":0.643},{"p":12,"k":"m","e":"920 GeV","x":4.13e-3,"y":0.574},{"p":12,"k":"m","e":"920 GeV","x":1.33e-2,"y":0.444},{"p":12,"k":"m","e":"820 GeV","x":8.05e-5,"y":1.051},{"p":12,"k":"m","e":"820 GeV","x":1.3e-4,"y":1.06},{"p":12,"k":"m","e":"575 GeV","x":8.9e-5,"y":0.85,"lo":0.81,"hi":0.9},{"p":12,"k":"m","e":"575 GeV","x":9.55e-5,"y":0.885},{"p":12,"k":"m","e":"575 GeV","x":1.27e-4,"y":1.0},{"p":12,"k":"m","e":"575 GeV","x":1.46e-4,"y":1.01},{"p":12,"k":"m","e":"575 GeV","x":1.27e-4,"y":0.945},{"p":12,"k":"m","e":"575 GeV","x":1.94e-4,"y":0.945},{"p":12,"k":"m","e":"460 GeV","x":1.2e-4,"y":0.945},{"p":12,"k":"m","e":"460 GeV","x":1.46e-4,"y":0.97},{"p":12,"k":"m","e":"460 GeV","x":2e-4,"y":0.924}
]},
"bounds":"flush",
"spacing":0,
"columns":3,
"concat":[
{"width":213,"height":284,"title":{"text":"Q²=0.2 GeV²","anchor":"end","frame":"group","baseline":"alphabetic","offset":-57,"dx":-16,"fontSize":22,"fontWeight":"normal"},"transform":[{"filter":"datum.p==1"}],"resolve":{"axis":{"x":"independent","y":"independent"}},"layer":[
{"transform":[{"filter":"datum.k=='c'"}],"mark":{"type":"line","strokeWidth":1.5,"interpolate":"monotone","clip":true},"encoding":{"x":{"field":"x","type":"quantitative","scale":{"type":"log","domain":[3e-6,0.041],"nice":false},"axis":{"orient":"bottom","values":[3e-6,4e-6,5e-6,6e-6,7e-6,8e-6,9e-6,1e-5,2e-5,3e-5,4e-5,5e-5,6e-5,7e-5,8e-5,9e-5,0.0001,0.0002,0.0003,0.0004,0.0005,0.0006,0.0007,0.0008,0.0009,0.001,0.002,0.003,0.004,0.005,0.006,0.007,0.008,0.009,0.01,0.02,0.03,0.04],"labels":false,"tickSize":{"condition":{"test":"abs(log(datum.value)/LN10-round(log(datum.value)/LN10))<0.01","value":-10},"value":-5},"domain":false,"grid":false,"title":null}},"y":{"field":"y","type":"quantitative","scale":{"domain":[0.003,0.5],"nice":false,"zero":false},"axis":{"orient":"left","values":[0.02,0.04,0.06,0.08,0.1,0.12,0.14,0.16,0.18,0.2,0.22,0.24,0.26,0.28,0.3,0.32,0.34,0.36,0.38,0.4,0.42,0.44,0.46,0.48,0.5],"tickSize":{"condition":{"test":"abs(datum.value*10-round(datum.value*10))<0.01","value":-9},"value":-4.5},"labelExpr":"abs(datum.value*10-round(datum.value*10))<0.01?datum.label:''","format":"~g","labelFontSize":20,"labelPadding":21,"labelFlush":true,"labelOverlap":false,"domain":false,"grid":false,"title":"σᵣ","titleAngle":0,"titleAlign":"left","titleBaseline":"alphabetic","titleX":-86,"titleY":33,"titleFontSize":24,"titleFontWeight":"normal","titleColor":"black"}},"color":{"field":"f","type":"nominal","scale":{"domain":["920","820","575","460"],"range":["#0000ff","#ff0000","#000000","#ff00ff"]}}}},
{"transform":[{"filter":"datum.k=='d'"}],"mark":{"type":"line","color":"#0000ff","strokeWidth":1.5,"strokeDash":[6,4],"clip":true},"encoding":{"x":{"field":"x","type":"quantitative","axis":{"orient":"top","values":[3e-6,4e-6,5e-6,6e-6,7e-6,8e-6,9e-6,1e-5,2e-5,3e-5,4e-5,5e-5,6e-5,7e-5,8e-5,9e-5,0.0001,0.0002,0.0003,0.0004,0.0005,0.0006,0.0007,0.0008,0.0009,0.001,0.002,0.003,0.004,0.005,0.006,0.007,0.008,0.009,0.01,0.02,0.03,0.04],"labels":false,"tickSize":{"condition":{"test":"abs(log(datum.value)/LN10-round(log(datum.value)/LN10))<0.01","value":-10},"value":-5},"domain":false,"grid":false,"title":null}},"y":{"field":"y","type":"quantitative","axis":{"orient":"right","values":[0.02,0.04,0.06,0.08,0.1,0.12,0.14,0.16,0.18,0.2,0.22,0.24,0.26,0.28,0.3,0.32,0.34,0.36,0.38,0.4,0.42,0.44,0.46,0.48,0.5],"tickSize":{"condition":{"test":"abs(datum.value*10-round(datum.value*10))<0.01","value":-9},"value":-4.5},"labels":false,"domain":false,"grid":false,"title":null}}}},
{"transform":[{"filter":"datum.k=='m'&&isValid(datum.lo)"}],"mark":{"type":"rule","strokeWidth":2,"clip":true},"encoding":{"x":{"field":"x","type":"quantitative","axis":null},"y":{"field":"lo","type":"quantitative","axis":null},"y2":{"field":"hi"},"stroke":{"field":"e","type":"nominal","scale":{"domain":["920 GeV","820 GeV","575 GeV","460 GeV"],"range":["#0000ff","#ff0000","#000000","#ff00ff"]}}}},
{"transform":[{"filter":"datum.k=='m'"}],"mark":{"type":"point","strokeWidth":2,"opacity":1,"size":80},"encoding":{"x":{"field":"x","type":"quantitative","axis":null},"y":{"field":"y","type":"quantitative","axis":null},"shape":{"field":"e","type":"nominal","scale":{"domain":["920 GeV","820 GeV","575 GeV","460 GeV"],"range":["square","triangle-up","M0,-1L0.2245,-0.309L0.951,-0.309L0.363,0.118L0.588,0.809L0,0.382L-0.588,0.809L-0.363,0.118L-0.951,-0.309L-0.2245,-0.309Z","circle"]}},"stroke":{"field":"e","type":"nominal","scale":{"domain":["920 GeV","820 GeV","575 GeV","460 GeV"],"range":["#0000ff","#ff0000","#000000","#ff00ff"]}},"fill":{"field":"e","type":"nominal","scale":{"domain":["920 GeV","820 GeV","575 GeV","460 GeV"],"range":["transparent","#ff0000","#000000","#ff00ff"]}}}}
]},
{"width":226,"height":284,"title":{"text":"Q²=0.25 GeV²","anchor":"end","frame":"group","baseline":"alphabetic","offset":-57,"dx":-12,"fontSize":22,"fontWeight":"normal"},"transform":[{"filter":"datum.p==2"}],"resolve":{"axis":{"x":"independent","y":"independent"}},"layer":[
{"transform":[{"filter":"datum.k=='c'"}],"mark":{"type":"line","strokeWidth":1.5,"interpolate":"monotone","clip":true},"encoding":{"x":{"field":"x","type":"quantitative","scale":{"type":"log","domain":[3e-6,0.041],"nice":false},"axis":{"orient":"bottom","values":[3e-6,4e-6,5e-6,6e-6,7e-6,8e-6,9e-6,1e-5,2e-5,3e-5,4e-5,5e-5,6e-5,7e-5,8e-5,9e-5,0.0001,0.0002,0.0003,0.0004,0.0005,0.0006,0.0007,0.0008,0.0009,0.001,0.002,0.003,0.004,0.005,0.006,0.007,0.008,0.009,0.01,0.02,0.03,0.04],"labels":false,"tickSize":{"condition":{"test":"abs(log(datum.value)/LN10-round(log(datum.value)/LN10))<0.01","value":-10},"value":-5},"domain":false,"grid":false,"title":null}},"y":{"field":"y","type":"quantitative","scale":{"domain":[0.003,0.5],"nice":false,"zero":false},"axis":{"orient":"left","values":[0.02,0.04,0.06,0.08,0.1,0.12,0.14,0.16,0.18,0.2,0.22,0.24,0.26,0.28,0.3,0.32,0.34,0.36,0.38,0.4,0.42,0.44,0.46,0.48,0.5],"tickSize":{"condition":{"test":"abs(datum.value*10-round(datum.value*10))<0.01","value":-9},"value":-4.5},"labels":false,"domain":false,"grid":false,"title":null}},"color":{"field":"f","type":"nominal"}}},
{"transform":[{"filter":"datum.k=='d'"}],"mark":{"type":"line","color":"#0000ff","strokeWidth":1.5,"strokeDash":[6,4],"clip":true},"encoding":{"x":{"field":"x","type":"quantitative","axis":{"orient":"top","values":[3e-6,4e-6,5e-6,6e-6,7e-6,8e-6,9e-6,1e-5,2e-5,3e-5,4e-5,5e-5,6e-5,7e-5,8e-5,9e-5,0.0001,0.0002,0.0003,0.0004,0.0005,0.0006,0.0007,0.0008,0.0009,0.001,0.002,0.003,0.004,0.005,0.006,0.007,0.008,0.009,0.01,0.02,0.03,0.04],"labels":false,"tickSize":{"condition":{"test":"abs(log(datum.value)/LN10-round(log(datum.value)/LN10))<0.01","value":-10},"value":-5},"domain":false,"grid":false,"title":null}},"y":{"field":"y","type":"quantitative","axis":{"orient":"right","values":[0.02,0.04,0.06,0.08,0.1,0.12,0.14,0.16,0.18,0.2,0.22,0.24,0.26,0.28,0.3,0.32,0.34,0.36,0.38,0.4,0.42,0.44,0.46,0.48,0.5],"tickSize":{"condition":{"test":"abs(datum.value*10-round(datum.value*10))<0.01","value":-9},"value":-4.5},"labels":false,"domain":false,"grid":false,"title":null}}}},
{"transform":[{"filter":"datum.k=='m'&&isValid(datum.lo)"}],"mark":{"type":"rule","strokeWidth":2,"clip":true},"encoding":{"x":{"field":"x","type":"quantitative","axis":null},"y":{"field":"lo","type":"quantitative","axis":null},"y2":{"field":"hi"},"stroke":{"field":"e","type":"nominal"}}},
{"transform":[{"filter":"datum.k=='m'"}],"mark":{"type":"point","strokeWidth":2,"opacity":1,"size":80},"encoding":{"x":{"field":"x","type":"quantitative","axis":null},"y":{"field":"y","type":"quantitative","axis":null},"shape":{"field":"e","type":"nominal"},"stroke":{"field":"e","type":"nominal"},"fill":{"field":"e","type":"nominal"}}}
]},
{"width":225,"height":284,"title":{"text":"Q²=0.35 GeV²","anchor":"end","frame":"group","baseline":"alphabetic","offset":-57,"dx":-11.5,"fontSize":22,"fontWeight":"normal"},"transform":[{"filter":"datum.p==3"}],"resolve":{"axis":{"x":"independent","y":"independent"}},"layer":[
{"transform":[{"filter":"datum.k=='c'"}],"mark":{"type":"line","strokeWidth":1.5,"interpolate":"monotone","clip":true},"encoding":{"x":{"field":"x","type":"quantitative","scale":{"type":"log","domain":[3e-6,0.041],"nice":false},"axis":{"orient":"bottom","values":[3e-6,4e-6,5e-6,6e-6,7e-6,8e-6,9e-6,1e-5,2e-5,3e-5,4e-5,5e-5,6e-5,7e-5,8e-5,9e-5,0.0001,0.0002,0.0003,0.0004,0.0005,0.0006,0.0007,0.0008,0.0009,0.001,0.002,0.003,0.004,0.005,0.006,0.007,0.008,0.009,0.01,0.02,0.03,0.04],"labels":false,"tickSize":{"condition":{"test":"abs(log(datum.value)/LN10-round(log(datum.value)/LN10))<0.01","value":-10},"value":-5},"domain":false,"grid":false,"title":null}},"y":{"field":"y","type":"quantitative","scale":{"domain":[0.003,0.5],"nice":false,"zero":false},"axis":{"orient":"left","values":[0.02,0.04,0.06,0.08,0.1,0.12,0.14,0.16,0.18,0.2,0.22,0.24,0.26,0.28,0.3,0.32,0.34,0.36,0.38,0.4,0.42,0.44,0.46,0.48,0.5],"tickSize":{"condition":{"test":"abs(datum.value*10-round(datum.value*10))<0.01","value":-9},"value":-4.5},"labels":false,"domain":false,"grid":false,"title":null}},"color":{"field":"f","type":"nominal"}}},
{"transform":[{"filter":"datum.k=='d'"}],"mark":{"type":"line","color":"#0000ff","strokeWidth":1.5,"strokeDash":[6,4],"clip":true},"encoding":{"x":{"field":"x","type":"quantitative","axis":{"orient":"top","values":[3e-6,4e-6,5e-6,6e-6,7e-6,8e-6,9e-6,1e-5,2e-5,3e-5,4e-5,5e-5,6e-5,7e-5,8e-5,9e-5,0.0001,0.0002,0.0003,0.0004,0.0005,0.0006,0.0007,0.0008,0.0009,0.001,0.002,0.003,0.004,0.005,0.006,0.007,0.008,0.009,0.01,0.02,0.03,0.04],"labels":false,"tickSize":{"condition":{"test":"abs(log(datum.value)/LN10-round(log(datum.value)/LN10))<0.01","value":-10},"value":-5},"domain":false,"grid":false,"title":null}},"y":{"field":"y","type":"quantitative","axis":{"orient":"right","values":[0.02,0.04,0.06,0.08,0.1,0.12,0.14,0.16,0.18,0.2,0.22,0.24,0.26,0.28,0.3,0.32,0.34,0.36,0.38,0.4,0.42,0.44,0.46,0.48,0.5],"tickSize":{"condition":{"test":"abs(datum.value*10-round(datum.value*10))<0.01","value":-9},"value":-4.5},"labels":false,"domain":false,"grid":false,"title":null}}}},
{"transform":[{"filter":"datum.k=='m'&&isValid(datum.lo)"}],"mark":{"type":"rule","strokeWidth":2,"clip":true},"encoding":{"x":{"field":"x","type":"quantitative","axis":null},"y":{"field":"lo","type":"quantitative","axis":null},"y2":{"field":"hi"},"stroke":{"field":"e","type":"nominal"}}},
{"transform":[{"filter":"datum.k=='m'"}],"mark":{"type":"point","strokeWidth":2,"opacity":1,"size":80},"encoding":{"x":{"field":"x","type":"quantitative","axis":null},"y":{"field":"y","type":"quantitative","axis":null},"shape":{"field":"e","type":"nominal"},"stroke":{"field":"e","type":"nominal"},"fill":{"field":"e","type":"nominal"}}}
]},
{"width":213,"height":285,"title":{"text":"Q²=0.5 GeV²","anchor":"end","frame":"group","baseline":"alphabetic","offset":-57.5,"dx":-16,"fontSize":22,"fontWeight":"normal"},"transform":[{"filter":"datum.p==4"}],"resolve":{"axis":{"x":"independent","y":"independent"}},"layer":[
{"transform":[{"filter":"datum.k=='c'"}],"mark":{"type":"line","strokeWidth":1.5,"interpolate":"monotone","clip":true},"encoding":{"x":{"field":"x","type":"quantitative","scale":{"type":"log","domain":[3e-6,0.041],"nice":false},"axis":{"orient":"bottom","values":[3e-6,4e-6,5e-6,6e-6,7e-6,8e-6,9e-6,1e-5,2e-5,3e-5,4e-5,5e-5,6e-5,7e-5,8e-5,9e-5,0.0001,0.0002,0.0003,0.0004,0.0005,0.0006,0.0007,0.0008,0.0009,0.001,0.002,0.003,0.004,0.005,0.006,0.007,0.008,0.009,0.01,0.02,0.03,0.04],"labels":false,"tickSize":{"condition":{"test":"abs(log(datum.value)/LN10-round(log(datum.value)/LN10))<0.01","value":-10},"value":-5},"domain":false,"grid":false,"title":null}},"y":{"field":"y","type":"quantitative","scale":{"domain":[0,1],"nice":false,"zero":false},"axis":{"orient":"left","values":[0.05,0.1,0.15,0.2,0.25,0.3,0.35,0.4,0.45,0.5,0.55,0.6,0.65,0.7,0.75,0.8,0.85,0.9,0.95],"tickSize":{"condition":{"test":"abs(datum.value*5-round(datum.value*5))<0.01","value":-9},"value":-4.5},"labelExpr":"abs(datum.value*5-round(datum.value*5))<0.01?datum.label:''","format":"~g","labelFontSize":20,"labelPadding":21,"labelFlush":false,"labelOverlap":false,"domain":false,"grid":false,"title":null}},"color":{"field":"f","type":"nominal"}}},
{"transform":[{"filter":"datum.k=='d'"}],"mark":{"type":"line","color":"#0000ff","strokeWidth":1.5,"strokeDash":[6,4],"clip":true},"encoding":{"x":{"field":"x","type":"quantitative","axis":{"orient":"top","values":[3e-6,4e-6,5e-6,6e-6,7e-6,8e-6,9e-6,1e-5,2e-5,3e-5,4e-5,5e-5,6e-5,7e-5,8e-5,9e-5,0.0001,0.0002,0.0003,0.0004,0.0005,0.0006,0.0007,0.0008,0.0009,0.001,0.002,0.003,0.004,0.005,0.006,0.007,0.008,0.009,0.01,0.02,0.03,0.04],"labels":false,"tickSize":{"condition":{"test":"abs(log(datum.value)/LN10-round(log(datum.value)/LN10))<0.01","value":-10},"value":-5},"domain":false,"grid":false,"title":null}},"y":{"field":"y","type":"quantitative","axis":{"orient":"right","values":[0.05,0.1,0.15,0.2,0.25,0.3,0.35,0.4,0.45,0.5,0.55,0.6,0.65,0.7,0.75,0.8,0.85,0.9,0.95],"tickSize":{"condition":{"test":"abs(datum.value*5-round(datum.value*5))<0.01","value":-9},"value":-4.5},"labels":false,"domain":false,"grid":false,"title":null}}}},
{"transform":[{"filter":"datum.k=='m'&&isValid(datum.lo)"}],"mark":{"type":"rule","strokeWidth":2,"clip":true},"encoding":{"x":{"field":"x","type":"quantitative","axis":null},"y":{"field":"lo","type":"quantitative","axis":null},"y2":{"field":"hi"},"stroke":{"field":"e","type":"nominal"}}},
{"transform":[{"filter":"datum.k=='m'"}],"mark":{"type":"point","strokeWidth":2,"opacity":1,"size":80},"encoding":{"x":{"field":"x","type":"quantitative","axis":null},"y":{"field":"y","type":"quantitative","axis":null},"shape":{"field":"e","type":"nominal"},"stroke":{"field":"e","type":"nominal"},"fill":{"field":"e","type":"nominal"}}}
]},
{"width":226,"height":285,"title":{"text":"Q²=0.65 GeV²","anchor":"end","frame":"group","baseline":"alphabetic","offset":-57.5,"dx":-12,"fontSize":22,"fontWeight":"normal"},"transform":[{"filter":"datum.p==5"}],"resolve":{"axis":{"x":"independent","y":"independent"}},"layer":[
{"transform":[{"filter":"datum.k=='c'"}],"mark":{"type":"line","strokeWidth":1.5,"interpolate":"monotone","clip":true},"encoding":{"x":{"field":"x","type":"quantitative","scale":{"type":"log","domain":[3e-6,0.041],"nice":false},"axis":{"orient":"bottom","values":[3e-6,4e-6,5e-6,6e-6,7e-6,8e-6,9e-6,1e-5,2e-5,3e-5,4e-5,5e-5,6e-5,7e-5,8e-5,9e-5,0.0001,0.0002,0.0003,0.0004,0.0005,0.0006,0.0007,0.0008,0.0009,0.001,0.002,0.003,0.004,0.005,0.006,0.007,0.008,0.009,0.01,0.02,0.03,0.04],"labels":false,"tickSize":{"condition":{"test":"abs(log(datum.value)/LN10-round(log(datum.value)/LN10))<0.01","value":-10},"value":-5},"domain":false,"grid":false,"title":null}},"y":{"field":"y","type":"quantitative","scale":{"domain":[0,1],"nice":false,"zero":false},"axis":{"orient":"left","values":[0.05,0.1,0.15,0.2,0.25,0.3,0.35,0.4,0.45,0.5,0.55,0.6,0.65,0.7,0.75,0.8,0.85,0.9,0.95],"tickSize":{"condition":{"test":"abs(datum.value*5-round(datum.value*5))<0.01","value":-9},"value":-4.5},"labels":false,"domain":false,"grid":false,"title":null}},"color":{"field":"f","type":"nominal"}}},
{"transform":[{"filter":"datum.k=='d'"}],"mark":{"type":"line","color":"#0000ff","strokeWidth":1.5,"strokeDash":[6,4],"clip":true},"encoding":{"x":{"field":"x","type":"quantitative","axis":{"orient":"top","values":[3e-6,4e-6,5e-6,6e-6,7e-6,8e-6,9e-6,1e-5,2e-5,3e-5,4e-5,5e-5,6e-5,7e-5,8e-5,9e-5,0.0001,0.0002,0.0003,0.0004,0.0005,0.0006,0.0007,0.0008,0.0009,0.001,0.002,0.003,0.004,0.005,0.006,0.007,0.008,0.009,0.01,0.02,0.03,0.04],"labels":false,"tickSize":{"condition":{"test":"abs(log(datum.value)/LN10-round(log(datum.value)/LN10))<0.01","value":-10},"value":-5},"domain":false,"grid":false,"title":null}},"y":{"field":"y","type":"quantitative","axis":{"orient":"right","values":[0.05,0.1,0.15,0.2,0.25,0.3,0.35,0.4,0.45,0.5,0.55,0.6,0.65,0.7,0.75,0.8,0.85,0.9,0.95],"tickSize":{"condition":{"test":"abs(datum.value*5-round(datum.value*5))<0.01","value":-9},"value":-4.5},"labels":false,"domain":false,"grid":false,"title":null}}}},
{"transform":[{"filter":"datum.k=='m'&&isValid(datum.lo)"}],"mark":{"type":"rule","strokeWidth":2,"clip":true},"encoding":{"x":{"field":"x","type":"quantitative","axis":null},"y":{"field":"lo","type":"quantitative","axis":null},"y2":{"field":"hi"},"stroke":{"field":"e","type":"nominal"}}},
{"transform":[{"filter":"datum.k=='m'"}],"mark":{"type":"point","strokeWidth":2,"opacity":1,"size":80},"encoding":{"x":{"field":"x","type":"quantitative","axis":null},"y":{"field":"y","type":"quantitative","axis":null},"shape":{"field":"e","type":"nominal"},"stroke":{"field":"e","type":"nominal"},"fill":{"field":"e","type":"nominal"}}}
]},
{"width":225,"height":285,"title":{"text":"Q²=0.85 GeV²","anchor":"end","frame":"group","baseline":"alphabetic","offset":-57.5,"dx":-11.5,"fontSize":22,"fontWeight":"normal"},"transform":[{"filter":"datum.p==6"}],"resolve":{"axis":{"x":"independent","y":"independent"}},"layer":[
{"transform":[{"filter":"datum.k=='c'"}],"mark":{"type":"line","strokeWidth":1.5,"interpolate":"monotone","clip":true},"encoding":{"x":{"field":"x","type":"quantitative","scale":{"type":"log","domain":[3e-6,0.041],"nice":false},"axis":{"orient":"bottom","values":[3e-6,4e-6,5e-6,6e-6,7e-6,8e-6,9e-6,1e-5,2e-5,3e-5,4e-5,5e-5,6e-5,7e-5,8e-5,9e-5,0.0001,0.0002,0.0003,0.0004,0.0005,0.0006,0.0007,0.0008,0.0009,0.001,0.002,0.003,0.004,0.005,0.006,0.007,0.008,0.009,0.01,0.02,0.03,0.04],"labels":false,"tickSize":{"condition":{"test":"abs(log(datum.value)/LN10-round(log(datum.value)/LN10))<0.01","value":-10},"value":-5},"domain":false,"grid":false,"title":null}},"y":{"field":"y","type":"quantitative","scale":{"domain":[0,1],"nice":false,"zero":false},"axis":{"orient":"left","values":[0.05,0.1,0.15,0.2,0.25,0.3,0.35,0.4,0.45,0.5,0.55,0.6,0.65,0.7,0.75,0.8,0.85,0.9,0.95],"tickSize":{"condition":{"test":"abs(datum.value*5-round(datum.value*5))<0.01","value":-9},"value":-4.5},"labels":false,"domain":false,"grid":false,"title":null}},"color":{"field":"f","type":"nominal"}}},
{"transform":[{"filter":"datum.k=='d'"}],"mark":{"type":"line","color":"#0000ff","strokeWidth":1.5,"strokeDash":[6,4],"clip":true},"encoding":{"x":{"field":"x","type":"quantitative","axis":{"orient":"top","values":[3e-6,4e-6,5e-6,6e-6,7e-6,8e-6,9e-6,1e-5,2e-5,3e-5,4e-5,5e-5,6e-5,7e-5,8e-5,9e-5,0.0001,0.0002,0.0003,0.0004,0.0005,0.0006,0.0007,0.0008,0.0009,0.001,0.002,0.003,0.004,0.005,0.006,0.007,0.008,0.009,0.01,0.02,0.03,0.04],"labels":false,"tickSize":{"condition":{"test":"abs(log(datum.value)/LN10-round(log(datum.value)/LN10))<0.01","value":-10},"value":-5},"domain":false,"grid":false,"title":null}},"y":{"field":"y","type":"quantitative","axis":{"orient":"right","values":[0.05,0.1,0.15,0.2,0.25,0.3,0.35,0.4,0.45,0.5,0.55,0.6,0.65,0.7,0.75,0.8,0.85,0.9,0.95],"tickSize":{"condition":{"test":"abs(datum.value*5-round(datum.value*5))<0.01","value":-9},"value":-4.5},"labels":false,"domain":false,"grid":false,"title":null}}}},
{"transform":[{"filter":"datum.k=='m'&&isValid(datum.lo)"}],"mark":{"type":"rule","strokeWidth":2,"clip":true},"encoding":{"x":{"field":"x","type":"quantitative","axis":null},"y":{"field":"lo","type":"quantitative","axis":null},"y2":{"field":"hi"},"stroke":{"field":"e","type":"nominal"}}},
{"transform":[{"filter":"datum.k=='m'"}],"mark":{"type":"point","strokeWidth":2,"opacity":1,"size":80},"encoding":{"x":{"field":"x","type":"quantitative","axis":null},"y":{"field":"y","type":"quantitative","axis":null},"shape":{"field":"e","type":"nominal"},"stroke":{"field":"e","type":"nominal"},"fill":{"field":"e","type":"nominal"}}}
]},
{"width":213,"height":284,"title":{"text":"Q²=1.2 GeV²","anchor":"end","frame":"group","baseline":"alphabetic","offset":-55.5,"dx":-16,"fontSize":22,"fontWeight":"normal"},"transform":[{"filter":"datum.p==7"}],"resolve":{"axis":{"x":"independent","y":"independent"}},"layer":[
{"transform":[{"filter":"datum.k=='c'"}],"mark":{"type":"line","strokeWidth":1.5,"interpolate":"monotone","clip":true},"encoding":{"x":{"field":"x","type":"quantitative","scale":{"type":"log","domain":[3e-6,0.041],"nice":false},"axis":{"orient":"bottom","values":[3e-6,4e-6,5e-6,6e-6,7e-6,8e-6,9e-6,1e-5,2e-5,3e-5,4e-5,5e-5,6e-5,7e-5,8e-5,9e-5,0.0001,0.0002,0.0003,0.0004,0.0005,0.0006,0.0007,0.0008,0.0009,0.001,0.002,0.003,0.004,0.005,0.006,0.007,0.008,0.009,0.01,0.02,0.03,0.04],"labels":false,"tickSize":{"condition":{"test":"abs(log(datum.value)/LN10-round(log(datum.value)/LN10))<0.01","value":-10},"value":-5},"domain":false,"grid":false,"title":null}},"y":{"field":"y","type":"quantitative","scale":{"domain":[0,1],"nice":false,"zero":false},"axis":{"orient":"left","values":[0.05,0.1,0.15,0.2,0.25,0.3,0.35,0.4,0.45,0.5,0.55,0.6,0.65,0.7,0.75,0.8,0.85,0.9,0.95],"tickSize":{"condition":{"test":"abs(datum.value*5-round(datum.value*5))<0.01","value":-9},"value":-4.5},"labelExpr":"abs(datum.value*5-round(datum.value*5))<0.01?datum.label:''","format":"~g","labelFontSize":20,"labelPadding":21,"labelFlush":false,"labelOverlap":false,"domain":false,"grid":false,"title":null}},"color":{"field":"f","type":"nominal"}}},
{"transform":[{"filter":"datum.k=='d'"}],"mark":{"type":"line","color":"#0000ff","strokeWidth":1.5,"strokeDash":[6,4],"clip":true},"encoding":{"x":{"field":"x","type":"quantitative","axis":{"orient":"top","values":[3e-6,4e-6,5e-6,6e-6,7e-6,8e-6,9e-6,1e-5,2e-5,3e-5,4e-5,5e-5,6e-5,7e-5,8e-5,9e-5,0.0001,0.0002,0.0003,0.0004,0.0005,0.0006,0.0007,0.0008,0.0009,0.001,0.002,0.003,0.004,0.005,0.006,0.007,0.008,0.009,0.01,0.02,0.03,0.04],"labels":false,"tickSize":{"condition":{"test":"abs(log(datum.value)/LN10-round(log(datum.value)/LN10))<0.01","value":-10},"value":-5},"domain":false,"grid":false,"title":null}},"y":{"field":"y","type":"quantitative","axis":{"orient":"right","values":[0.05,0.1,0.15,0.2,0.25,0.3,0.35,0.4,0.45,0.5,0.55,0.6,0.65,0.7,0.75,0.8,0.85,0.9,0.95],"tickSize":{"condition":{"test":"abs(datum.value*5-round(datum.value*5))<0.01","value":-9},"value":-4.5},"labels":false,"domain":false,"grid":false,"title":null}}}},
{"transform":[{"filter":"datum.k=='m'&&isValid(datum.lo)"}],"mark":{"type":"rule","strokeWidth":2,"clip":true},"encoding":{"x":{"field":"x","type":"quantitative","axis":null},"y":{"field":"lo","type":"quantitative","axis":null},"y2":{"field":"hi"},"stroke":{"field":"e","type":"nominal"}}},
{"transform":[{"filter":"datum.k=='m'"}],"mark":{"type":"point","strokeWidth":2,"opacity":1,"size":80},"encoding":{"x":{"field":"x","type":"quantitative","axis":null},"y":{"field":"y","type":"quantitative","axis":null},"shape":{"field":"e","type":"nominal"},"stroke":{"field":"e","type":"nominal"},"fill":{"field":"e","type":"nominal"}}}
]},
{"width":226,"height":284,"title":{"text":"Q²=1.5 GeV²","anchor":"end","frame":"group","baseline":"alphabetic","offset":-55.5,"dx":-12,"fontSize":22,"fontWeight":"normal"},"transform":[{"filter":"datum.p==8"}],"resolve":{"axis":{"x":"independent","y":"independent"}},"layer":[
{"transform":[{"filter":"datum.k=='c'"}],"mark":{"type":"line","strokeWidth":1.5,"interpolate":"monotone","clip":true},"encoding":{"x":{"field":"x","type":"quantitative","scale":{"type":"log","domain":[3e-6,0.041],"nice":false},"axis":{"orient":"bottom","values":[3e-6,4e-6,5e-6,6e-6,7e-6,8e-6,9e-6,1e-5,2e-5,3e-5,4e-5,5e-5,6e-5,7e-5,8e-5,9e-5,0.0001,0.0002,0.0003,0.0004,0.0005,0.0006,0.0007,0.0008,0.0009,0.001,0.002,0.003,0.004,0.005,0.006,0.007,0.008,0.009,0.01,0.02,0.03,0.04],"labels":false,"tickSize":{"condition":{"test":"abs(log(datum.value)/LN10-round(log(datum.value)/LN10))<0.01","value":-10},"value":-5},"domain":false,"grid":false,"title":null}},"y":{"field":"y","type":"quantitative","scale":{"domain":[0,1],"nice":false,"zero":false},"axis":{"orient":"left","values":[0.05,0.1,0.15,0.2,0.25,0.3,0.35,0.4,0.45,0.5,0.55,0.6,0.65,0.7,0.75,0.8,0.85,0.9,0.95],"tickSize":{"condition":{"test":"abs(datum.value*5-round(datum.value*5))<0.01","value":-9},"value":-4.5},"labels":false,"domain":false,"grid":false,"title":null}},"color":{"field":"f","type":"nominal"}}},
{"transform":[{"filter":"datum.k=='d'"}],"mark":{"type":"line","color":"#0000ff","strokeWidth":1.5,"strokeDash":[6,4],"clip":true},"encoding":{"x":{"field":"x","type":"quantitative","axis":{"orient":"top","values":[3e-6,4e-6,5e-6,6e-6,7e-6,8e-6,9e-6,1e-5,2e-5,3e-5,4e-5,5e-5,6e-5,7e-5,8e-5,9e-5,0.0001,0.0002,0.0003,0.0004,0.0005,0.0006,0.0007,0.0008,0.0009,0.001,0.002,0.003,0.004,0.005,0.006,0.007,0.008,0.009,0.01,0.02,0.03,0.04],"labels":false,"tickSize":{"condition":{"test":"abs(log(datum.value)/LN10-round(log(datum.value)/LN10))<0.01","value":-10},"value":-5},"domain":false,"grid":false,"title":null}},"y":{"field":"y","type":"quantitative","axis":{"orient":"right","values":[0.05,0.1,0.15,0.2,0.25,0.3,0.35,0.4,0.45,0.5,0.55,0.6,0.65,0.7,0.75,0.8,0.85,0.9,0.95],"tickSize":{"condition":{"test":"abs(datum.value*5-round(datum.value*5))<0.01","value":-9},"value":-4.5},"labels":false,"domain":false,"grid":false,"title":null}}}},
{"transform":[{"filter":"datum.k=='m'&&isValid(datum.lo)"}],"mark":{"type":"rule","strokeWidth":2,"clip":true},"encoding":{"x":{"field":"x","type":"quantitative","axis":null},"y":{"field":"lo","type":"quantitative","axis":null},"y2":{"field":"hi"},"stroke":{"field":"e","type":"nominal"}}},
{"transform":[{"filter":"datum.k=='m'"}],"mark":{"type":"point","strokeWidth":2,"opacity":1,"size":80},"encoding":{"x":{"field":"x","type":"quantitative","axis":null},"y":{"field":"y","type":"quantitative","axis":null},"shape":{"field":"e","type":"nominal"},"stroke":{"field":"e","type":"nominal"},"fill":{"field":"e","type":"nominal"}}}
]},
{"width":225,"height":284,"title":{"text":"Q²=2 GeV²","anchor":"end","frame":"group","baseline":"alphabetic","offset":-55.5,"dx":-11.5,"fontSize":22,"fontWeight":"normal"},"transform":[{"filter":"datum.p==9"}],"resolve":{"axis":{"x":"independent","y":"independent"}},"layer":[
{"transform":[{"filter":"datum.k=='c'"}],"mark":{"type":"line","strokeWidth":1.5,"interpolate":"monotone","clip":true},"encoding":{"x":{"field":"x","type":"quantitative","scale":{"type":"log","domain":[3e-6,0.041],"nice":false},"axis":{"orient":"bottom","values":[3e-6,4e-6,5e-6,6e-6,7e-6,8e-6,9e-6,1e-5,2e-5,3e-5,4e-5,5e-5,6e-5,7e-5,8e-5,9e-5,0.0001,0.0002,0.0003,0.0004,0.0005,0.0006,0.0007,0.0008,0.0009,0.001,0.002,0.003,0.004,0.005,0.006,0.007,0.008,0.009,0.01,0.02,0.03,0.04],"labels":false,"tickSize":{"condition":{"test":"abs(log(datum.value)/LN10-round(log(datum.value)/LN10))<0.01","value":-10},"value":-5},"domain":false,"grid":false,"title":null}},"y":{"field":"y","type":"quantitative","scale":{"domain":[0,1],"nice":false,"zero":false},"axis":{"orient":"left","values":[0.05,0.1,0.15,0.2,0.25,0.3,0.35,0.4,0.45,0.5,0.55,0.6,0.65,0.7,0.75,0.8,0.85,0.9,0.95],"tickSize":{"condition":{"test":"abs(datum.value*5-round(datum.value*5))<0.01","value":-9},"value":-4.5},"labels":false,"domain":false,"grid":false,"title":null}},"color":{"field":"f","type":"nominal"}}},
{"transform":[{"filter":"datum.k=='d'"}],"mark":{"type":"line","color":"#0000ff","strokeWidth":1.5,"strokeDash":[6,4],"clip":true},"encoding":{"x":{"field":"x","type":"quantitative","axis":{"orient":"top","values":[3e-6,4e-6,5e-6,6e-6,7e-6,8e-6,9e-6,1e-5,2e-5,3e-5,4e-5,5e-5,6e-5,7e-5,8e-5,9e-5,0.0001,0.0002,0.0003,0.0004,0.0005,0.0006,0.0007,0.0008,0.0009,0.001,0.002,0.003,0.004,0.005,0.006,0.007,0.008,0.009,0.01,0.02,0.03,0.04],"labels":false,"tickSize":{"condition":{"test":"abs(log(datum.value)/LN10-round(log(datum.value)/LN10))<0.01","value":-10},"value":-5},"domain":false,"grid":false,"title":null}},"y":{"field":"y","type":"quantitative","axis":{"orient":"right","values":[0.05,0.1,0.15,0.2,0.25,0.3,0.35,0.4,0.45,0.5,0.55,0.6,0.65,0.7,0.75,0.8,0.85,0.9,0.95],"tickSize":{"condition":{"test":"abs(datum.value*5-round(datum.value*5))<0.01","value":-9},"value":-4.5},"labels":false,"domain":false,"grid":false,"title":null}}}},
{"transform":[{"filter":"datum.k=='m'&&isValid(datum.lo)"}],"mark":{"type":"rule","strokeWidth":2,"clip":true},"encoding":{"x":{"field":"x","type":"quantitative","axis":null},"y":{"field":"lo","type":"quantitative","axis":null},"y2":{"field":"hi"},"stroke":{"field":"e","type":"nominal"}}},
{"transform":[{"filter":"datum.k=='m'"}],"mark":{"type":"point","strokeWidth":2,"opacity":1,"size":80},"encoding":{"x":{"field":"x","type":"quantitative","axis":null},"y":{"field":"y","type":"quantitative","axis":null},"shape":{"field":"e","type":"nominal"},"stroke":{"field":"e","type":"nominal"},"fill":{"field":"e","type":"nominal"}}}
]},
{"width":213,"height":275,"title":{"text":"Q²=2.5 GeV²","anchor":"end","frame":"group","baseline":"alphabetic","offset":-63,"dx":-16,"fontSize":22,"fontWeight":"normal"},"transform":[{"filter":"datum.p==10"}],"resolve":{"axis":{"x":"independent","y":"independent"}},"layer":[
{"transform":[{"filter":"datum.k=='c'"}],"mark":{"type":"line","strokeWidth":1.5,"interpolate":"monotone","clip":true},"encoding":{"x":{"field":"x","type":"quantitative","scale":{"type":"log","domain":[3e-6,0.041],"nice":false},"axis":{"orient":"bottom","values":[3e-6,4e-6,5e-6,6e-6,7e-6,8e-6,9e-6,1e-5,2e-5,3e-5,4e-5,5e-5,6e-5,7e-5,8e-5,9e-5,0.0001,0.0002,0.0003,0.0004,0.0005,0.0006,0.0007,0.0008,0.0009,0.001,0.002,0.003,0.004,0.005,0.006,0.007,0.008,0.009,0.01,0.02,0.03,0.04],"labelExpr":"abs(log(datum.value)/LN10-round(log(datum.value)/LN10))<0.01?'10⁻'+['⁰','¹','²','³','⁴','⁵','⁶'][-round(log(datum.value)/LN10)]:''","labelFontSize":20,"labelPadding":22,"labelFlush":false,"labelOverlap":false,"tickSize":{"condition":{"test":"abs(log(datum.value)/LN10-round(log(datum.value)/LN10))<0.01","value":-10},"value":-5},"domain":false,"grid":false,"title":null}},"y":{"field":"y","type":"quantitative","scale":{"domain":[0,1.49],"nice":false,"zero":false},"axis":{"orient":"left","values":[0,0.1,0.2,0.3,0.4,0.5,0.6,0.7,0.8,0.9,1,1.1,1.2,1.3,1.4],"tickSize":{"condition":{"test":"abs(datum.value*2-round(datum.value*2))<0.01","value":-9},"value":-4.5},"labelExpr":"abs(datum.value*2-round(datum.value*2))<0.01?datum.label:''","format":"~g","labelFontSize":20,"labelPadding":21,"labelFlush":false,"labelOverlap":false,"domain":false,"grid":false,"title":null}},"color":{"field":"f","type":"nominal"}}},
{"transform":[{"filter":"datum.k=='d'"}],"mark":{"type":"line","color":"#0000ff","strokeWidth":1.5,"strokeDash":[6,4],"clip":true},"encoding":{"x":{"field":"x","type":"quantitative","axis":{"orient":"top","values":[3e-6,4e-6,5e-6,6e-6,7e-6,8e-6,9e-6,1e-5,2e-5,3e-5,4e-5,5e-5,6e-5,7e-5,8e-5,9e-5,0.0001,0.0002,0.0003,0.0004,0.0005,0.0006,0.0007,0.0008,0.0009,0.001,0.002,0.003,0.004,0.005,0.006,0.007,0.008,0.009,0.01,0.02,0.03,0.04],"labels":false,"tickSize":{"condition":{"test":"abs(log(datum.value)/LN10-round(log(datum.value)/LN10))<0.01","value":-10},"value":-5},"domain":false,"grid":false,"title":null}},"y":{"field":"y","type":"quantitative","axis":{"orient":"right","values":[0,0.1,0.2,0.3,0.4,0.5,0.6,0.7,0.8,0.9,1,1.1,1.2,1.3,1.4],"tickSize":{"condition":{"test":"abs(datum.value*2-round(datum.value*2))<0.01","value":-9},"value":-4.5},"labels":false,"domain":false,"grid":false,"title":null}}}},
{"transform":[{"filter":"datum.k=='m'&&isValid(datum.lo)"}],"mark":{"type":"rule","strokeWidth":2,"clip":true},"encoding":{"x":{"field":"x","type":"quantitative","axis":null},"y":{"field":"lo","type":"quantitative","axis":null},"y2":{"field":"hi"},"stroke":{"field":"e","type":"nominal"}}},
{"transform":[{"filter":"datum.k=='m'"}],"mark":{"type":"point","strokeWidth":2,"opacity":1,"size":80},"encoding":{"x":{"field":"x","type":"quantitative","axis":null},"y":{"field":"y","type":"quantitative","axis":null},"shape":{"field":"e","type":"nominal"},"stroke":{"field":"e","type":"nominal"},"fill":{"field":"e","type":"nominal"}}}
]},
{"width":226,"height":275,"title":{"text":"Q²=3.5 GeV²","anchor":"end","frame":"group","baseline":"alphabetic","offset":-63,"dx":-12,"fontSize":22,"fontWeight":"normal"},"transform":[{"filter":"datum.p==11"}],"resolve":{"axis":{"x":"independent","y":"independent"}},"layer":[
{"transform":[{"filter":"datum.k=='c'"}],"mark":{"type":"line","strokeWidth":1.5,"interpolate":"monotone","clip":true},"encoding":{"x":{"field":"x","type":"quantitative","scale":{"type":"log","domain":[3e-6,0.041],"nice":false},"axis":{"orient":"bottom","values":[3e-6,4e-6,5e-6,6e-6,7e-6,8e-6,9e-6,1e-5,2e-5,3e-5,4e-5,5e-5,6e-5,7e-5,8e-5,9e-5,0.0001,0.0002,0.0003,0.0004,0.0005,0.0006,0.0007,0.0008,0.0009,0.001,0.002,0.003,0.004,0.005,0.006,0.007,0.008,0.009,0.01,0.02,0.03,0.04],"labelExpr":"abs(log(datum.value)/LN10-round(log(datum.value)/LN10))<0.01?'10⁻'+['⁰','¹','²','³','⁴','⁵','⁶'][-round(log(datum.value)/LN10)]:''","labelFontSize":20,"labelPadding":22,"labelFlush":false,"labelOverlap":false,"tickSize":{"condition":{"test":"abs(log(datum.value)/LN10-round(log(datum.value)/LN10))<0.01","value":-10},"value":-5},"domain":false,"grid":false,"title":null}},"y":{"field":"y","type":"quantitative","scale":{"domain":[0,1.49],"nice":false,"zero":false},"axis":{"orient":"left","values":[0,0.1,0.2,0.3,0.4,0.5,0.6,0.7,0.8,0.9,1,1.1,1.2,1.3,1.4],"tickSize":{"condition":{"test":"abs(datum.value*2-round(datum.value*2))<0.01","value":-9},"value":-4.5},"labels":false,"domain":false,"grid":false,"title":null}},"color":{"field":"f","type":"nominal","legend":{"title":"IIM fit","orient":"none","legendX":222,"legendY":993,"symbolType":"stroke","symbolStrokeWidth":2,"symbolSize":150,"labelFont":"DejaVu Sans","labelFontSize":22,"titleFontSize":16,"titleFontWeight":"normal","titlePadding":10,"rowPadding":3,"labelOffset":6,"labelExpr":"'σᵣ'+(datum.label=='920'?'⁹²⁰':datum.label=='820'?'⁸²⁰':datum.label=='575'?'⁵⁷⁵':'⁴⁶⁰')"}}}},
{"transform":[{"filter":"datum.k=='d'"}],"mark":{"type":"line","color":"#0000ff","strokeWidth":1.5,"strokeDash":[6,4],"clip":true},"encoding":{"x":{"field":"x","type":"quantitative","axis":{"orient":"top","values":[3e-6,4e-6,5e-6,6e-6,7e-6,8e-6,9e-6,1e-5,2e-5,3e-5,4e-5,5e-5,6e-5,7e-5,8e-5,9e-5,0.0001,0.0002,0.0003,0.0004,0.0005,0.0006,0.0007,0.0008,0.0009,0.001,0.002,0.003,0.004,0.005,0.006,0.007,0.008,0.009,0.01,0.02,0.03,0.04],"labels":false,"tickSize":{"condition":{"test":"abs(log(datum.value)/LN10-round(log(datum.value)/LN10))<0.01","value":-10},"value":-5},"domain":false,"grid":false,"title":null}},"y":{"field":"y","type":"quantitative","axis":{"orient":"right","values":[0,0.1,0.2,0.3,0.4,0.5,0.6,0.7,0.8,0.9,1,1.1,1.2,1.3,1.4],"tickSize":{"condition":{"test":"abs(datum.value*2-round(datum.value*2))<0.01","value":-9},"value":-4.5},"labels":false,"domain":false,"grid":false,"title":null}}}},
{"transform":[{"filter":"datum.k=='m'&&isValid(datum.lo)"}],"mark":{"type":"rule","strokeWidth":2,"clip":true},"encoding":{"x":{"field":"x","type":"quantitative","axis":null},"y":{"field":"lo","type":"quantitative","axis":null},"y2":{"field":"hi"},"stroke":{"field":"e","type":"nominal"}}},
{"transform":[{"filter":"datum.k=='m'"}],"mark":{"type":"point","strokeWidth":2,"opacity":1,"size":80},"encoding":{"x":{"field":"x","type":"quantitative","axis":null},"y":{"field":"y","type":"quantitative","axis":null},"shape":{"field":"e","type":"nominal"},"stroke":{"field":"e","type":"nominal"},"fill":{"field":"e","type":"nominal"}}}
]},
{"width":225,"height":275,"title":{"text":"Q²=5 GeV²","anchor":"end","frame":"group","baseline":"alphabetic","offset":-63,"dx":-11.5,"fontSize":22,"fontWeight":"normal"},"transform":[{"filter":"datum.p==12"}],"resolve":{"axis":{"x":"independent","y":"independent"}},"layer":[
{"transform":[{"filter":"datum.k=='c'"}],"mark":{"type":"line","strokeWidth":1.5,"interpolate":"monotone","clip":true},"encoding":{"x":{"field":"x","type":"quantitative","scale":{"type":"log","domain":[3e-6,0.041],"nice":false},"axis":{"orient":"bottom","values":[3e-6,4e-6,5e-6,6e-6,7e-6,8e-6,9e-6,1e-5,2e-5,3e-5,4e-5,5e-5,6e-5,7e-5,8e-5,9e-5,0.0001,0.0002,0.0003,0.0004,0.0005,0.0006,0.0007,0.0008,0.0009,0.001,0.002,0.003,0.004,0.005,0.006,0.007,0.008,0.009,0.01,0.02,0.03,0.04],"labelExpr":"abs(log(datum.value)/LN10-round(log(datum.value)/LN10))<0.01?'10⁻'+['⁰','¹','²','³','⁴','⁵','⁶'][-round(log(datum.value)/LN10)]:''","labelFontSize":20,"labelPadding":22,"labelFlush":false,"labelOverlap":false,"tickSize":{"condition":{"test":"abs(log(datum.value)/LN10-round(log(datum.value)/LN10))<0.01","value":-10},"value":-5},"domain":false,"grid":false,"title":"x","titleFontSize":23,"titleFontWeight":"bold","titleAlign":"right","titleBaseline":"alphabetic","titleX":222,"titleY":55,"titleAngle":0,"titleColor":"black"}},"y":{"field":"y","type":"quantitative","scale":{"domain":[0,1.49],"nice":false,"zero":false},"axis":{"orient":"left","values":[0,0.1,0.2,0.3,0.4,0.5,0.6,0.7,0.8,0.9,1,1.1,1.2,1.3,1.4],"tickSize":{"condition":{"test":"abs(datum.value*2-round(datum.value*2))<0.01","value":-9},"value":-4.5},"labels":false,"domain":false,"grid":false,"title":null}},"color":{"field":"f","type":"nominal"}}},
{"transform":[{"filter":"datum.k=='d'"}],"mark":{"type":"line","color":"#0000ff","strokeWidth":1.5,"strokeDash":[6,4],"clip":true},"encoding":{"x":{"field":"x","type":"quantitative","axis":{"orient":"top","values":[3e-6,4e-6,5e-6,6e-6,7e-6,8e-6,9e-6,1e-5,2e-5,3e-5,4e-5,5e-5,6e-5,7e-5,8e-5,9e-5,0.0001,0.0002,0.0003,0.0004,0.0005,0.0006,0.0007,0.0008,0.0009,0.001,0.002,0.003,0.004,0.005,0.006,0.007,0.008,0.009,0.01,0.02,0.03,0.04],"labels":false,"tickSize":{"condition":{"test":"abs(log(datum.value)/LN10-round(log(datum.value)/LN10))<0.01","value":-10},"value":-5},"domain":false,"grid":false,"title":null}},"y":{"field":"y","type":"quantitative","axis":{"orient":"right","values":[0,0.1,0.2,0.3,0.4,0.5,0.6,0.7,0.8,0.9,1,1.1,1.2,1.3,1.4],"tickSize":{"condition":{"test":"abs(datum.value*2-round(datum.value*2))<0.01","value":-9},"value":-4.5},"labels":false,"domain":false,"grid":false,"title":null}}}},
{"transform":[{"filter":"datum.k=='m'&&isValid(datum.lo)"}],"mark":{"type":"rule","strokeWidth":2,"clip":true},"encoding":{"x":{"field":"x","type":"quantitative","axis":null},"y":{"field":"lo","type":"quantitative","axis":null},"y2":{"field":"hi"},"stroke":{"field":"e","type":"nominal"}}},
{"transform":[{"filter":"datum.k=='m'"}],"mark":{"type":"point","strokeWidth":2,"opacity":1,"size":80},"encoding":{"x":{"field":"x","type":"quantitative","axis":null},"y":{"field":"y","type":"quantitative","axis":null},"shape":{"field":"e","type":"nominal","legend":{"title":null,"orient":"none","legendX":451,"legendY":1017,"labelFontSize":16,"labelExpr":"'Eₚ = '+datum.label","rowPadding":7.5,"symbolStrokeWidth":2,"labelOffset":10}},"stroke":{"field":"e","type":"nominal","legend":{"title":null,"orient":"none","legendX":451,"legendY":1017,"labelFontSize":16,"labelExpr":"'Eₚ = '+datum.label","rowPadding":7.5,"symbolStrokeWidth":2,"labelOffset":10}},"fill":{"field":"e","type":"nominal","legend":{"title":null,"orient":"none","legendX":451,"legendY":1017,"labelFontSize":16,"labelExpr":"'Eₚ = '+datum.label","rowPadding":7.5,"symbolStrokeWidth":2,"labelOffset":10}}}}
]}
]
}
